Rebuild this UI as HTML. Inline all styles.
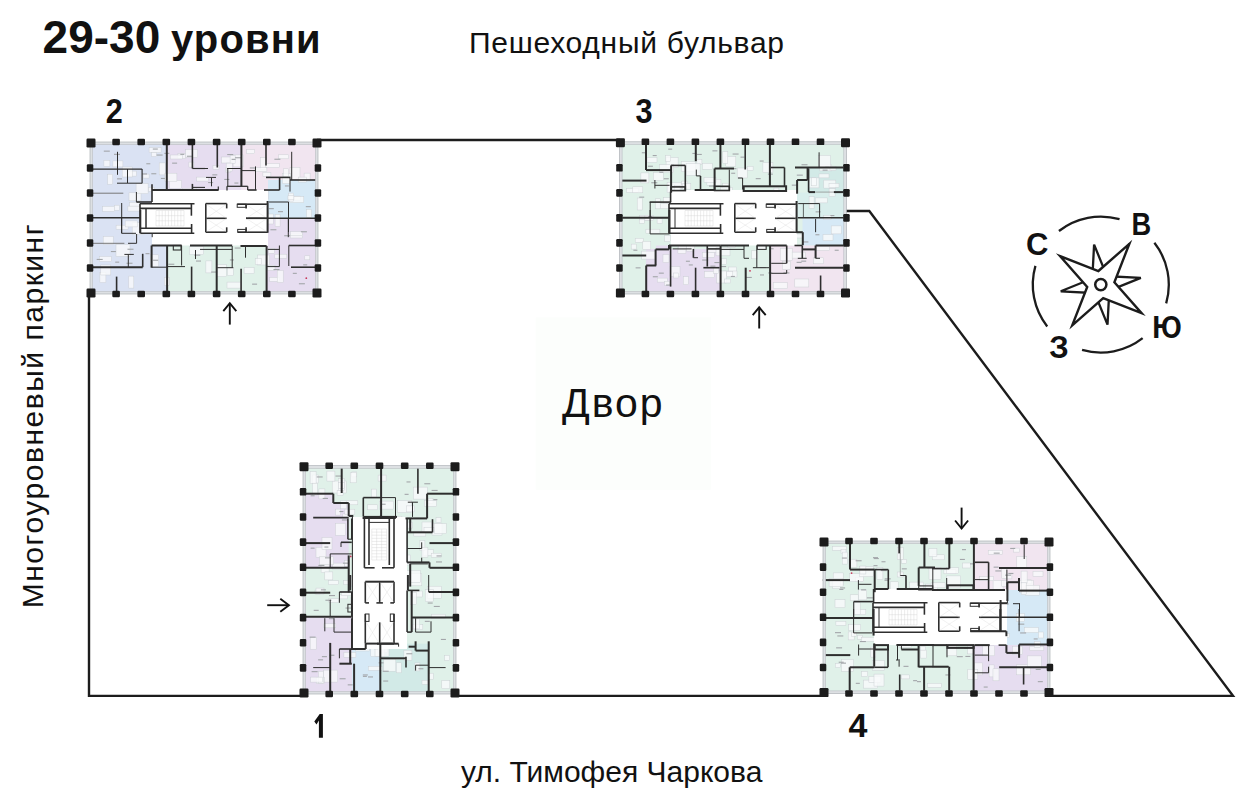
<!DOCTYPE html>
<html><head><meta charset="utf-8"><style>
html,body{margin:0;padding:0;background:#fff;}
svg{display:block;font-family:"Liberation Sans",sans-serif;}
text{fill:#111;}
</style></head><body>
<svg width="1250" height="811" viewBox="0 0 1250 811">
<rect x="0" y="0" width="1250" height="811" fill="#fff"/>
<rect x="535.7" y="317.3" width="175.1" height="172.5" fill="#fcfefc" />
<path d="M317,140 L620,140" stroke="#1c1c1c" stroke-width="2.4" fill="none"/>
<path d="M89,293 L89,695.9 L304,695.9" stroke="#1c1c1c" stroke-width="2.4" fill="none"/>
<path d="M455,695.9 L823,695.9" stroke="#1c1c1c" stroke-width="2.4" fill="none"/>
<path d="M1048,695.9 L1233,695.9 L869.3,211 L846,211" stroke="#1c1c1c" stroke-width="2.4" fill="none" stroke-linejoin="miter"/>
<rect x="91.0" y="143.0" width="226.0" height="150.0" fill="#f6f6f8" />
<rect x="91.0" y="143.0" width="76.0" height="150.0" fill="#dae2f3" />
<rect x="167.0" y="143.0" width="74.0" height="47.0" fill="#e6ddf0" />
<rect x="241.0" y="143.0" width="76.0" height="47.0" fill="#f1e5f0" />
<rect x="268.0" y="180.0" width="49.0" height="38.0" fill="#d6e9f6" />
<rect x="267.0" y="218.0" width="50.0" height="75.0" fill="#e6ddf0" />
<rect x="167.0" y="245.0" width="100.0" height="48.0" fill="#e0f1e9" />
<rect x="177.9" y="153.6" width="8" height="5" fill="#f9fafb" fill-opacity="0.8" stroke="#cbcfd3" stroke-width="0.45"/>
<rect x="170.3" y="155.0" width="12" height="4" fill="#f9fafb" fill-opacity="0.8" stroke="#cbcfd3" stroke-width="0.45"/>
<rect x="102.7" y="206.4" width="12" height="5" fill="#f9fafb" fill-opacity="0.8" stroke="#cbcfd3" stroke-width="0.45"/>
<rect x="114.3" y="205.2" width="5" height="5" fill="#f9fafb" fill-opacity="0.8" stroke="#cbcfd3" stroke-width="0.45"/>
<rect x="290.2" y="234.0" width="12" height="4" fill="#f9fafb" fill-opacity="0.8" stroke="#cbcfd3" stroke-width="0.45"/>
<rect x="213.9" y="201.7" width="12" height="4" fill="#f9fafb" fill-opacity="0.8" stroke="#cbcfd3" stroke-width="0.45"/>
<rect x="213.0" y="165.4" width="6" height="4" fill="#f9fafb" fill-opacity="0.8" stroke="#cbcfd3" stroke-width="0.45"/>
<rect x="207.5" y="225.2" width="10" height="5" fill="#f9fafb" fill-opacity="0.8" stroke="#cbcfd3" stroke-width="0.45"/>
<rect x="132.2" y="222.6" width="12" height="12" fill="#f9fafb" fill-opacity="0.8" stroke="#cbcfd3" stroke-width="0.45"/>
<rect x="171.0" y="222.0" width="14" height="5" fill="#f9fafb" fill-opacity="0.8" stroke="#cbcfd3" stroke-width="0.45"/>
<rect x="107.7" y="174.2" width="5" height="10" fill="#f9fafb" fill-opacity="0.8" stroke="#cbcfd3" stroke-width="0.45"/>
<rect x="182.2" y="188.5" width="14" height="10" fill="#f9fafb" fill-opacity="0.8" stroke="#cbcfd3" stroke-width="0.45"/>
<rect x="169.5" y="180.3" width="12" height="8" fill="#f9fafb" fill-opacity="0.8" stroke="#cbcfd3" stroke-width="0.45"/>
<rect x="260.3" y="157.6" width="6" height="12" fill="#f9fafb" fill-opacity="0.8" stroke="#cbcfd3" stroke-width="0.45"/>
<rect x="199.0" y="192.3" width="8" height="10" fill="#f9fafb" fill-opacity="0.8" stroke="#cbcfd3" stroke-width="0.45"/>
<rect x="221.7" y="157.0" width="10" height="6" fill="#f9fafb" fill-opacity="0.8" stroke="#cbcfd3" stroke-width="0.45"/>
<rect x="129.0" y="192.8" width="12" height="8" fill="#f9fafb" fill-opacity="0.8" stroke="#cbcfd3" stroke-width="0.45"/>
<rect x="103.2" y="236.5" width="10" height="8" fill="#f9fafb" fill-opacity="0.8" stroke="#cbcfd3" stroke-width="0.45"/>
<rect x="257.6" y="255.0" width="12" height="10" fill="#f9fafb" fill-opacity="0.8" stroke="#cbcfd3" stroke-width="0.45"/>
<rect x="168.5" y="211.6" width="8" height="12" fill="#f9fafb" fill-opacity="0.8" stroke="#cbcfd3" stroke-width="0.45"/>
<rect x="269.7" y="277.4" width="10" height="4" fill="#f9fafb" fill-opacity="0.8" stroke="#cbcfd3" stroke-width="0.45"/>
<rect x="233.1" y="154.9" width="10" height="12" fill="#f9fafb" fill-opacity="0.8" stroke="#cbcfd3" stroke-width="0.45"/>
<rect x="227.0" y="282.1" width="14" height="6" fill="#f9fafb" fill-opacity="0.8" stroke="#cbcfd3" stroke-width="0.45"/>
<rect x="244.1" y="267.6" width="10" height="6" fill="#f9fafb" fill-opacity="0.8" stroke="#cbcfd3" stroke-width="0.45"/>
<rect x="292.5" y="196.1" width="8" height="4" fill="#f9fafb" fill-opacity="0.8" stroke="#cbcfd3" stroke-width="0.45"/>
<rect x="196.7" y="177.1" width="12" height="4" fill="#f9fafb" fill-opacity="0.8" stroke="#cbcfd3" stroke-width="0.45"/>
<rect x="250.1" y="201.5" width="8" height="5" fill="#f9fafb" fill-opacity="0.8" stroke="#cbcfd3" stroke-width="0.45"/>
<rect x="129.6" y="202.4" width="10" height="4" fill="#f9fafb" fill-opacity="0.8" stroke="#cbcfd3" stroke-width="0.45"/>
<rect x="267.0" y="265.4" width="8" height="5" fill="#f9fafb" fill-opacity="0.8" stroke="#cbcfd3" stroke-width="0.45"/>
<rect x="182.2" y="193.6" width="8" height="12" fill="#f9fafb" fill-opacity="0.8" stroke="#cbcfd3" stroke-width="0.45"/>
<rect x="126.4" y="171.1" width="10" height="5" fill="#f9fafb" fill-opacity="0.8" stroke="#cbcfd3" stroke-width="0.45"/>
<rect x="144.5" y="210.0" width="6" height="12" fill="#f9fafb" fill-opacity="0.8" stroke="#cbcfd3" stroke-width="0.45"/>
<rect x="149.1" y="147.6" width="12" height="5" fill="#f9fafb" fill-opacity="0.8" stroke="#cbcfd3" stroke-width="0.45"/>
<rect x="171.8" y="221.8" width="10" height="10" fill="#f9fafb" fill-opacity="0.8" stroke="#cbcfd3" stroke-width="0.45"/>
<rect x="277.2" y="270.5" width="6" height="12" fill="#f9fafb" fill-opacity="0.8" stroke="#cbcfd3" stroke-width="0.45"/>
<rect x="245.9" y="206.4" width="14" height="12" fill="#f9fafb" fill-opacity="0.8" stroke="#cbcfd3" stroke-width="0.45"/>
<rect x="175.0" y="199.7" width="14" height="10" fill="#f9fafb" fill-opacity="0.8" stroke="#cbcfd3" stroke-width="0.45"/>
<rect x="230.1" y="155.3" width="5" height="8" fill="#f9fafb" fill-opacity="0.8" stroke="#cbcfd3" stroke-width="0.45"/>
<rect x="188.9" y="162.1" width="5" height="5" fill="#f9fafb" fill-opacity="0.8" stroke="#cbcfd3" stroke-width="0.45"/>
<rect x="116.1" y="225.2" width="12" height="4" fill="#f9fafb" fill-opacity="0.8" stroke="#cbcfd3" stroke-width="0.45"/>
<rect x="290.5" y="231.7" width="12" height="4" fill="#f9fafb" fill-opacity="0.8" stroke="#cbcfd3" stroke-width="0.45"/>
<rect x="225.8" y="167.4" width="5" height="5" fill="#f9fafb" fill-opacity="0.8" stroke="#cbcfd3" stroke-width="0.45"/>
<rect x="221.5" y="211.5" width="8" height="6" fill="#f9fafb" fill-opacity="0.8" stroke="#cbcfd3" stroke-width="0.45"/>
<rect x="306.5" y="209.4" width="5" height="8" fill="#f9fafb" fill-opacity="0.8" stroke="#cbcfd3" stroke-width="0.45"/>
<rect x="112.9" y="160.9" width="10" height="6" fill="#f9fafb" fill-opacity="0.8" stroke="#cbcfd3" stroke-width="0.45"/>
<rect x="150.6" y="254.8" width="8" height="12" fill="#f9fafb" fill-opacity="0.8" stroke="#cbcfd3" stroke-width="0.45"/>
<rect x="99.9" y="272.5" width="6" height="10" fill="#f9fafb" fill-opacity="0.8" stroke="#cbcfd3" stroke-width="0.45"/>
<rect x="125.2" y="220.9" width="12" height="6" fill="#f9fafb" fill-opacity="0.8" stroke="#cbcfd3" stroke-width="0.45"/>
<rect x="158.5" y="231.9" width="5" height="10" fill="#f9fafb" fill-opacity="0.8" stroke="#cbcfd3" stroke-width="0.45"/>
<rect x="275.1" y="214.4" width="5" height="12" fill="#f9fafb" fill-opacity="0.8" stroke="#cbcfd3" stroke-width="0.45"/>
<rect x="258.7" y="219.4" width="6" height="6" fill="#f9fafb" fill-opacity="0.8" stroke="#cbcfd3" stroke-width="0.45"/>
<rect x="226.1" y="230.4" width="12" height="6" fill="#f9fafb" fill-opacity="0.8" stroke="#cbcfd3" stroke-width="0.45"/>
<rect x="268.5" y="248.4" width="6" height="5" fill="#f9fafb" fill-opacity="0.8" stroke="#cbcfd3" stroke-width="0.45"/>
<rect x="204.7" y="195.7" width="6" height="5" fill="#f9fafb" fill-opacity="0.8" stroke="#cbcfd3" stroke-width="0.45"/>
<rect x="263.3" y="212.2" width="5" height="4" fill="#f9fafb" fill-opacity="0.8" stroke="#cbcfd3" stroke-width="0.45"/>
<rect x="223.3" y="191.8" width="6" height="12" fill="#f9fafb" fill-opacity="0.8" stroke="#cbcfd3" stroke-width="0.45"/>
<rect x="289.8" y="196.6" width="14" height="6" fill="#f9fafb" fill-opacity="0.8" stroke="#cbcfd3" stroke-width="0.45"/>
<rect x="143.1" y="174.1" width="6" height="4" fill="#f9fafb" fill-opacity="0.8" stroke="#cbcfd3" stroke-width="0.45"/>
<rect x="227.3" y="267.6" width="6" height="8" fill="#f9fafb" fill-opacity="0.8" stroke="#cbcfd3" stroke-width="0.45"/>
<rect x="288.7" y="193.1" width="5" height="8" fill="#f9fafb" fill-opacity="0.8" stroke="#cbcfd3" stroke-width="0.45"/>
<rect x="265.3" y="163.5" width="14" height="4" fill="#f9fafb" fill-opacity="0.8" stroke="#cbcfd3" stroke-width="0.45"/>
<rect x="251.0" y="209.1" width="10" height="12" fill="#f9fafb" fill-opacity="0.8" stroke="#cbcfd3" stroke-width="0.45"/>
<rect x="262.3" y="191.6" width="6" height="8" fill="#f9fafb" fill-opacity="0.8" stroke="#cbcfd3" stroke-width="0.45"/>
<rect x="189.5" y="246.6" width="14" height="8" fill="#f9fafb" fill-opacity="0.8" stroke="#cbcfd3" stroke-width="0.45"/>
<rect x="128.8" y="276.1" width="5" height="12" fill="#f9fafb" fill-opacity="0.8" stroke="#cbcfd3" stroke-width="0.45"/>
<rect x="220.8" y="210.8" width="5" height="5" fill="#f9fafb" fill-opacity="0.8" stroke="#cbcfd3" stroke-width="0.45"/>
<rect x="219.8" y="228.6" width="14" height="5" fill="#f9fafb" fill-opacity="0.8" stroke="#cbcfd3" stroke-width="0.45"/>
<rect x="290.0" y="167.3" width="10" height="12" fill="#f9fafb" fill-opacity="0.8" stroke="#cbcfd3" stroke-width="0.45"/>
<rect x="99.4" y="256.5" width="12" height="5" fill="#f9fafb" fill-opacity="0.8" stroke="#cbcfd3" stroke-width="0.45"/>
<rect x="116.0" y="244.4" width="14" height="12" fill="#f9fafb" fill-opacity="0.8" stroke="#cbcfd3" stroke-width="0.45"/>
<rect x="304.1" y="173.1" width="6" height="8" fill="#f9fafb" fill-opacity="0.8" stroke="#cbcfd3" stroke-width="0.45"/>
<rect x="148.4" y="187.4" width="6" height="4" fill="#f9fafb" fill-opacity="0.8" stroke="#cbcfd3" stroke-width="0.45"/>
<rect x="164.1" y="218.9" width="6" height="10" fill="#f9fafb" fill-opacity="0.8" stroke="#cbcfd3" stroke-width="0.45"/>
<rect x="287.9" y="195.8" width="6" height="4" fill="#f9fafb" fill-opacity="0.8" stroke="#cbcfd3" stroke-width="0.45"/>
<rect x="216.3" y="264.6" width="10" height="12" fill="#f9fafb" fill-opacity="0.8" stroke="#cbcfd3" stroke-width="0.45"/>
<rect x="122.2" y="167.0" width="10" height="10" fill="#f9fafb" fill-opacity="0.8" stroke="#cbcfd3" stroke-width="0.45"/>
<rect x="274.8" y="254.2" width="12" height="4" fill="#f9fafb" fill-opacity="0.8" stroke="#cbcfd3" stroke-width="0.45"/>
<rect x="254.9" y="167.7" width="12" height="4" fill="#f9fafb" fill-opacity="0.8" stroke="#cbcfd3" stroke-width="0.45"/>
<rect x="226.2" y="163.1" width="6" height="8" fill="#f9fafb" fill-opacity="0.8" stroke="#cbcfd3" stroke-width="0.45"/>
<rect x="240.3" y="219.2" width="5" height="6" fill="#f9fafb" fill-opacity="0.8" stroke="#cbcfd3" stroke-width="0.45"/>
<rect x="278.7" y="154.8" width="10" height="4" fill="#f9fafb" fill-opacity="0.8" stroke="#cbcfd3" stroke-width="0.45"/>
<rect x="103.9" y="160.3" width="6" height="6" fill="#f9fafb" fill-opacity="0.8" stroke="#cbcfd3" stroke-width="0.45"/>
<rect x="100.8" y="265.0" width="10" height="10" fill="#f9fafb" fill-opacity="0.8" stroke="#cbcfd3" stroke-width="0.45"/>
<rect x="164.4" y="277.4" width="5" height="8" fill="#f9fafb" fill-opacity="0.8" stroke="#cbcfd3" stroke-width="0.45"/>
<rect x="136.1" y="183.6" width="12" height="10" fill="#f9fafb" fill-opacity="0.8" stroke="#cbcfd3" stroke-width="0.45"/>
<rect x="261.3" y="214.0" width="12" height="10" fill="#f9fafb" fill-opacity="0.8" stroke="#cbcfd3" stroke-width="0.45"/>
<rect x="205.9" y="260.9" width="6" height="12" fill="#f9fafb" fill-opacity="0.8" stroke="#cbcfd3" stroke-width="0.45"/>
<rect x="282.5" y="173.7" width="8" height="10" fill="#f9fafb" fill-opacity="0.8" stroke="#cbcfd3" stroke-width="0.45"/>
<rect x="181.7" y="200.8" width="10" height="5" fill="#f9fafb" fill-opacity="0.8" stroke="#cbcfd3" stroke-width="0.45"/>
<rect x="235.9" y="206.1" width="8" height="4" fill="#f9fafb" fill-opacity="0.8" stroke="#cbcfd3" stroke-width="0.45"/>
<rect x="159.2" y="162.9" width="6" height="12" fill="#f9fafb" fill-opacity="0.8" stroke="#cbcfd3" stroke-width="0.45"/>
<rect x="231.4" y="194.6" width="6" height="12" fill="#f9fafb" fill-opacity="0.8" stroke="#cbcfd3" stroke-width="0.45"/>
<rect x="298.2" y="177.1" width="8" height="5" fill="#f9fafb" fill-opacity="0.8" stroke="#cbcfd3" stroke-width="0.45"/>
<rect x="283.5" y="168.8" width="5" height="8" fill="#f9fafb" fill-opacity="0.8" stroke="#cbcfd3" stroke-width="0.45"/>
<rect x="127.9" y="206.1" width="14" height="5" fill="#f9fafb" fill-opacity="0.8" stroke="#cbcfd3" stroke-width="0.45"/>
<rect x="164.9" y="173.2" width="12" height="8" fill="#f9fafb" fill-opacity="0.8" stroke="#cbcfd3" stroke-width="0.45"/>
<rect x="246.7" y="149.7" width="8" height="4" fill="#f9fafb" fill-opacity="0.8" stroke="#cbcfd3" stroke-width="0.45"/>
<rect x="185.7" y="149.4" width="12" height="8" fill="#f9fafb" fill-opacity="0.8" stroke="#cbcfd3" stroke-width="0.45"/>
<rect x="226.0" y="214.6" width="8" height="10" fill="#f9fafb" fill-opacity="0.8" stroke="#cbcfd3" stroke-width="0.45"/>
<rect x="304.8" y="255.8" width="5" height="4" fill="#f9fafb" fill-opacity="0.8" stroke="#cbcfd3" stroke-width="0.45"/>
<rect x="151.6" y="152.5" width="5" height="4" fill="#f9fafb" fill-opacity="0.8" stroke="#cbcfd3" stroke-width="0.45"/>
<rect x="255.2" y="258.5" width="6" height="6" fill="#f9fafb" fill-opacity="0.8" stroke="#cbcfd3" stroke-width="0.45"/>
<rect x="177.8" y="220.0" width="14" height="6" fill="#f9fafb" fill-opacity="0.8" stroke="#cbcfd3" stroke-width="0.45"/>
<rect x="196.9" y="190.2" width="12" height="10" fill="#f9fafb" fill-opacity="0.8" stroke="#cbcfd3" stroke-width="0.45"/>
<rect x="262.9" y="172.3" width="8" height="4" fill="#f9fafb" fill-opacity="0.8" stroke="#cbcfd3" stroke-width="0.45"/>
<rect x="284.9" y="185.4" width="4" height="1.1" fill="#a3a6aa"/>
<rect x="229.9" y="259.4" width="4" height="1.1" fill="#a3a6aa"/>
<rect x="224.3" y="178.9" width="5" height="1.1" fill="#a3a6aa"/>
<rect x="278.0" y="211.1" width="5" height="1.1" fill="#a3a6aa"/>
<rect x="305.8" y="206.1" width="5" height="1.1" fill="#a3a6aa"/>
<rect x="227.2" y="154.0" width="6" height="1.1" fill="#a3a6aa"/>
<rect x="146.3" y="163.2" width="4" height="1.1" fill="#a3a6aa"/>
<rect x="151.3" y="173.2" width="5" height="1.1" fill="#a3a6aa"/>
<rect x="228.6" y="221.8" width="4" height="1.1" fill="#a3a6aa"/>
<rect x="157.2" y="217.5" width="4" height="1.1" fill="#a3a6aa"/>
<rect x="153.1" y="259.7" width="5" height="1.1" fill="#a3a6aa"/>
<rect x="103.8" y="150.6" width="6" height="1.1" fill="#a3a6aa"/>
<rect x="212.3" y="174.3" width="5" height="1.1" fill="#a3a6aa"/>
<rect x="147.8" y="210.1" width="6" height="1.1" fill="#a3a6aa"/>
<rect x="268.8" y="208.1" width="5" height="1.1" fill="#a3a6aa"/>
<rect x="211.2" y="271.5" width="6" height="1.1" fill="#a3a6aa"/>
<rect x="160.9" y="177.9" width="4" height="1.1" fill="#a3a6aa"/>
<rect x="168.3" y="263.7" width="6" height="1.1" fill="#a3a6aa"/>
<rect x="249.8" y="167.4" width="5" height="1.1" fill="#a3a6aa"/>
<rect x="303.2" y="264.3" width="4" height="1.1" fill="#a3a6aa"/>
<rect x="110.9" y="251.0" width="5" height="1.1" fill="#a3a6aa"/>
<rect x="186.9" y="155.7" width="6" height="1.1" fill="#a3a6aa"/>
<rect x="273.5" y="269.0" width="6" height="1.1" fill="#a3a6aa"/>
<rect x="300.9" y="231.2" width="6" height="1.1" fill="#a3a6aa"/>
<rect x="157.8" y="211.9" width="4" height="1.1" fill="#a3a6aa"/>
<rect x="152.8" y="148.5" width="5" height="1.1" fill="#a3a6aa"/>
<rect x="298.9" y="283.2" width="6" height="1.1" fill="#a3a6aa"/>
<rect x="164.3" y="152.8" width="5" height="1.1" fill="#a3a6aa"/>
<rect x="142.0" y="173.4" width="5" height="1.1" fill="#a3a6aa"/>
<rect x="176.5" y="214.0" width="6" height="1.1" fill="#a3a6aa"/>
<rect x="234.4" y="182.5" width="4" height="1.1" fill="#a3a6aa"/>
<rect x="115.2" y="261.6" width="4" height="1.1" fill="#a3a6aa"/>
<rect x="180.3" y="153.8" width="4" height="1.1" fill="#a3a6aa"/>
<rect x="159.2" y="235.5" width="4" height="1.1" fill="#a3a6aa"/>
<rect x="219.6" y="221.6" width="4" height="1.1" fill="#a3a6aa"/>
<rect x="234.7" y="247.5" width="6" height="1.1" fill="#a3a6aa"/>
<rect x="178.2" y="193.3" width="5" height="1.1" fill="#a3a6aa"/>
<rect x="127.5" y="248.7" width="6" height="1.1" fill="#a3a6aa"/>
<rect x="126.5" y="262.7" width="6" height="1.1" fill="#a3a6aa"/>
<rect x="284.2" y="235.2" width="6" height="1.1" fill="#a3a6aa"/>
<rect x="243.9" y="218.3" width="6" height="1.1" fill="#a3a6aa"/>
<rect x="254.9" y="227.0" width="4" height="1.1" fill="#a3a6aa"/>
<rect x="270.4" y="229.2" width="6" height="1.1" fill="#a3a6aa"/>
<rect x="240.1" y="244.4" width="4" height="1.1" fill="#a3a6aa"/>
<rect x="114.0" y="153.8" width="6" height="1.1" fill="#a3a6aa"/>
<rect x="172.1" y="162.6" width="5" height="1.1" fill="#a3a6aa"/>
<rect x="213.8" y="235.3" width="6" height="1.1" fill="#a3a6aa"/>
<rect x="208.1" y="182.0" width="5" height="1.1" fill="#a3a6aa"/>
<rect x="96.7" y="258.9" width="6" height="1.1" fill="#a3a6aa"/>
<rect x="292.8" y="272.8" width="4" height="1.1" fill="#a3a6aa"/>
<rect x="235.1" y="157.2" width="6" height="1.1" fill="#a3a6aa"/>
<rect x="196.0" y="260.5" width="5" height="1.1" fill="#a3a6aa"/>
<rect x="145.5" y="253.1" width="4" height="1.1" fill="#a3a6aa"/>
<rect x="252.1" y="283.6" width="5" height="1.1" fill="#a3a6aa"/>
<rect x="274.4" y="158.7" width="6" height="1.1" fill="#a3a6aa"/>
<rect x="156.6" y="154.5" width="6" height="1.1" fill="#a3a6aa"/>
<rect x="231.6" y="158.8" width="4" height="1.1" fill="#a3a6aa"/>
<rect x="166.0" y="238.6" width="6" height="1.1" fill="#a3a6aa"/>
<rect x="160.2" y="226.9" width="4" height="1.1" fill="#a3a6aa"/>
<rect x="197.8" y="215.5" width="6" height="1.1" fill="#a3a6aa"/>
<rect x="117.0" y="178.3" width="5" height="1.1" fill="#a3a6aa"/>
<rect x="157.4" y="219.8" width="5" height="1.1" fill="#a3a6aa"/>
<rect x="194.3" y="254.6" width="6" height="1.1" fill="#a3a6aa"/>
<circle cx="306.3" cy="278.2" r="0.9" fill="#c8385a"/>
<rect x="152.0" y="190.0" width="116.0" height="55.5" fill="#ffffff" />
<rect x="140.0" y="203.7" width="128.0" height="29.6" fill="#ffffff" />
<line x1="156.0" y1="210.5" x2="156.0" y2="226.0" stroke="#cfcfcf" stroke-width="0.41"/>
<line x1="159.1" y1="210.5" x2="159.1" y2="226.0" stroke="#cfcfcf" stroke-width="0.41"/>
<line x1="162.2" y1="210.5" x2="162.2" y2="226.0" stroke="#cfcfcf" stroke-width="0.41"/>
<line x1="165.3" y1="210.5" x2="165.3" y2="226.0" stroke="#cfcfcf" stroke-width="0.41"/>
<line x1="168.4" y1="210.5" x2="168.4" y2="226.0" stroke="#cfcfcf" stroke-width="0.41"/>
<line x1="171.6" y1="210.5" x2="171.6" y2="226.0" stroke="#cfcfcf" stroke-width="0.41"/>
<line x1="174.7" y1="210.5" x2="174.7" y2="226.0" stroke="#cfcfcf" stroke-width="0.41"/>
<line x1="177.8" y1="210.5" x2="177.8" y2="226.0" stroke="#cfcfcf" stroke-width="0.41"/>
<line x1="180.9" y1="210.5" x2="180.9" y2="226.0" stroke="#cfcfcf" stroke-width="0.41"/>
<line x1="184.0" y1="210.5" x2="184.0" y2="226.0" stroke="#cfcfcf" stroke-width="0.41"/>
<line x1="156.0" y1="210.5" x2="184.0" y2="210.5" stroke="#cfcfcf" stroke-width="0.41"/>
<line x1="156.0" y1="215.7" x2="184.0" y2="215.7" stroke="#cfcfcf" stroke-width="0.41"/>
<line x1="156.0" y1="220.8" x2="184.0" y2="220.8" stroke="#cfcfcf" stroke-width="0.41"/>
<line x1="156.0" y1="226.0" x2="184.0" y2="226.0" stroke="#cfcfcf" stroke-width="0.41"/>
<line x1="140.0" y1="203.7" x2="194.5" y2="203.7" stroke="#2e2e2e" stroke-width="1.60"/>
<line x1="140.0" y1="208.4" x2="190.9" y2="208.4" stroke="#2e2e2e" stroke-width="1.60"/>
<line x1="140.5" y1="228.3" x2="191.6" y2="228.3" stroke="#2e2e2e" stroke-width="1.60"/>
<line x1="140.5" y1="233.3" x2="194.3" y2="233.3" stroke="#2e2e2e" stroke-width="1.60"/>
<line x1="140.0" y1="203.7" x2="140.0" y2="233.3" stroke="#2e2e2e" stroke-width="1.60"/>
<line x1="146.0" y1="208.4" x2="146.0" y2="228.3" stroke="#2e2e2e" stroke-width="1.00"/>
<line x1="191.4" y1="203.7" x2="191.4" y2="215.7" stroke="#2e2e2e" stroke-width="1.60"/>
<line x1="191.6" y1="224.0" x2="191.6" y2="233.3" stroke="#2e2e2e" stroke-width="1.60"/>
<line x1="205.8" y1="203.6" x2="226.7" y2="203.6" stroke="#2e2e2e" stroke-width="1.60"/>
<line x1="205.8" y1="203.6" x2="205.8" y2="232.2" stroke="#2e2e2e" stroke-width="1.60"/>
<line x1="226.7" y1="203.6" x2="226.7" y2="208.4" stroke="#2e2e2e" stroke-width="1.60"/>
<line x1="226.7" y1="227.3" x2="226.7" y2="232.2" stroke="#2e2e2e" stroke-width="1.60"/>
<line x1="205.8" y1="218.3" x2="226.6" y2="218.3" stroke="#2e2e2e" stroke-width="1.60"/>
<line x1="205.8" y1="232.2" x2="226.6" y2="232.2" stroke="#2e2e2e" stroke-width="1.60"/>
<line x1="237.2" y1="204.2" x2="267.0" y2="204.2" stroke="#2e2e2e" stroke-width="1.60"/>
<rect x="237.2" y="204.2" width="8.9" height="3.1" fill="none" stroke="#2e2e2e" stroke-width="1.00"/>
<line x1="246.0" y1="218.3" x2="267.0" y2="218.3" stroke="#2e2e2e" stroke-width="1.60"/>
<line x1="246.1" y1="204.2" x2="246.1" y2="208.4" stroke="#2e2e2e" stroke-width="1.60"/>
<line x1="246.1" y1="227.3" x2="246.1" y2="232.2" stroke="#2e2e2e" stroke-width="1.60"/>
<line x1="237.7" y1="232.2" x2="267.7" y2="232.2" stroke="#2e2e2e" stroke-width="1.60"/>
<rect x="237.7" y="229.4" width="8.3" height="2.8" fill="none" stroke="#2e2e2e" stroke-width="1.00"/>
<line x1="267.6" y1="201.0" x2="267.6" y2="232.8" stroke="#2e2e2e" stroke-width="2.00"/>
<line x1="206.5" y1="204.5" x2="226.0" y2="218.0" stroke="#d8d8d8" stroke-width="0.36"/>
<line x1="206.5" y1="218.0" x2="226.0" y2="204.5" stroke="#d8d8d8" stroke-width="0.36"/>
<line x1="206.5" y1="218.8" x2="226.0" y2="231.5" stroke="#d8d8d8" stroke-width="0.36"/>
<line x1="206.5" y1="231.5" x2="226.0" y2="218.8" stroke="#d8d8d8" stroke-width="0.36"/>
<line x1="246.8" y1="205.0" x2="266.5" y2="218.0" stroke="#d8d8d8" stroke-width="0.36"/>
<line x1="246.8" y1="218.0" x2="266.5" y2="205.0" stroke="#d8d8d8" stroke-width="0.36"/>
<line x1="246.8" y1="218.8" x2="266.5" y2="231.5" stroke="#d8d8d8" stroke-width="0.36"/>
<line x1="246.8" y1="231.5" x2="266.5" y2="218.8" stroke="#d8d8d8" stroke-width="0.36"/>
<line x1="90.8" y1="169.1" x2="142.1" y2="169.1" stroke="#2e2e2e" stroke-width="1.44"/>
<line x1="142.1" y1="169.0" x2="142.1" y2="183.2" stroke="#2e2e2e" stroke-width="1.17"/>
<line x1="117.0" y1="183.2" x2="142.1" y2="183.2" stroke="#2e2e2e" stroke-width="0.99"/>
<line x1="127.5" y1="169.0" x2="127.5" y2="183.0" stroke="#2e2e2e" stroke-width="1.00"/>
<line x1="117.5" y1="151.8" x2="117.5" y2="174.8" stroke="#2e2e2e" stroke-width="1.00"/>
<line x1="166.8" y1="141.8" x2="166.8" y2="189.5" stroke="#2e2e2e" stroke-width="2.00"/>
<line x1="152.0" y1="190.0" x2="218.3" y2="190.0" stroke="#2e2e2e" stroke-width="2.00"/>
<line x1="152.0" y1="184.3" x2="152.0" y2="202.0" stroke="#2e2e2e" stroke-width="1.60"/>
<line x1="90.8" y1="193.2" x2="123.3" y2="193.2" stroke="#777" stroke-width="1.00"/>
<line x1="136.4" y1="192.0" x2="136.4" y2="202.0" stroke="#2e2e2e" stroke-width="1.00"/>
<line x1="136.4" y1="202.0" x2="152.0" y2="202.0" stroke="#2e2e2e" stroke-width="1.60"/>
<line x1="90.8" y1="217.8" x2="140.0" y2="217.8" stroke="#2e2e2e" stroke-width="1.44"/>
<line x1="121.7" y1="203.0" x2="121.7" y2="233.0" stroke="#2e2e2e" stroke-width="1.00"/>
<line x1="192.4" y1="141.8" x2="192.4" y2="168.5" stroke="#2e2e2e" stroke-width="1.60"/>
<line x1="192.4" y1="168.5" x2="205.0" y2="168.5" stroke="#2e2e2e" stroke-width="1.17"/>
<line x1="192.4" y1="183.9" x2="192.4" y2="190.0" stroke="#2e2e2e" stroke-width="1.60"/>
<line x1="192.4" y1="187.4" x2="205.0" y2="187.4" stroke="#2e2e2e" stroke-width="1.08"/>
<line x1="217.3" y1="141.8" x2="217.3" y2="167.5" stroke="#2e2e2e" stroke-width="1.60"/>
<line x1="241.4" y1="141.8" x2="241.4" y2="186.3" stroke="#2e2e2e" stroke-width="2.00"/>
<line x1="266.0" y1="141.8" x2="266.0" y2="165.4" stroke="#2e2e2e" stroke-width="1.60"/>
<line x1="291.7" y1="151.8" x2="291.7" y2="180.0" stroke="#2e2e2e" stroke-width="1.00"/>
<line x1="290.0" y1="180.0" x2="316.8" y2="180.0" stroke="#2e2e2e" stroke-width="1.60"/>
<line x1="266.0" y1="177.4" x2="290.6" y2="177.4" stroke="#2e2e2e" stroke-width="1.60"/>
<line x1="279.6" y1="177.4" x2="279.6" y2="190.0" stroke="#2e2e2e" stroke-width="1.60"/>
<line x1="264.0" y1="190.0" x2="279.6" y2="190.0" stroke="#2e2e2e" stroke-width="1.60"/>
<line x1="227.0" y1="186.3" x2="247.7" y2="186.3" stroke="#2e2e2e" stroke-width="1.26"/>
<line x1="227.0" y1="186.3" x2="227.0" y2="190.5" stroke="#2e2e2e" stroke-width="1.26"/>
<line x1="247.7" y1="186.3" x2="247.7" y2="190.0" stroke="#2e2e2e" stroke-width="1.26"/>
<line x1="247.7" y1="190.0" x2="256.6" y2="190.0" stroke="#2e2e2e" stroke-width="1.60"/>
<line x1="218.3" y1="186.5" x2="218.3" y2="190.5" stroke="#2e2e2e" stroke-width="1.17"/>
<line x1="255.5" y1="166.4" x2="255.5" y2="190.0" stroke="#2e2e2e" stroke-width="1.00"/>
<line x1="241.4" y1="170.6" x2="255.0" y2="170.6" stroke="#2e2e2e" stroke-width="1.00"/>
<line x1="227.0" y1="168.5" x2="241.4" y2="168.5" stroke="#2e2e2e" stroke-width="1.00"/>
<line x1="200.0" y1="168.5" x2="208.0" y2="168.5" stroke="#2e2e2e" stroke-width="1.00"/>
<line x1="211.5" y1="178.0" x2="211.5" y2="186.3" stroke="#2e2e2e" stroke-width="1.00"/>
<line x1="206.0" y1="177.4" x2="216.0" y2="177.4" stroke="#2e2e2e" stroke-width="1.00"/>
<line x1="227.8" y1="168.5" x2="227.8" y2="186.3" stroke="#2e2e2e" stroke-width="1.00"/>
<line x1="288.5" y1="202.0" x2="288.5" y2="232.0" stroke="#2e2e2e" stroke-width="1.00"/>
<line x1="269.0" y1="202.0" x2="288.5" y2="202.0" stroke="#2e2e2e" stroke-width="1.00"/>
<line x1="290.0" y1="178.0" x2="290.0" y2="191.6" stroke="#2e2e2e" stroke-width="1.00"/>
<line x1="246.0" y1="218.3" x2="317.0" y2="218.3" stroke="#2e2e2e" stroke-width="1.60"/>
<line x1="140.5" y1="210.0" x2="140.5" y2="233.3" stroke="#2e2e2e" stroke-width="1.60"/>
<line x1="146.0" y1="208.4" x2="146.0" y2="228.3" stroke="#2e2e2e" stroke-width="1.00"/>
<line x1="121.6" y1="218.0" x2="121.6" y2="233.3" stroke="#2e2e2e" stroke-width="1.00"/>
<line x1="121.6" y1="233.3" x2="136.0" y2="233.3" stroke="#2e2e2e" stroke-width="1.00"/>
<line x1="136.6" y1="234.0" x2="136.6" y2="243.3" stroke="#2e2e2e" stroke-width="1.00"/>
<line x1="152.2" y1="234.0" x2="152.2" y2="237.2" stroke="#2e2e2e" stroke-width="1.00"/>
<line x1="91.0" y1="243.3" x2="124.4" y2="243.3" stroke="#777" stroke-width="1.00"/>
<line x1="128.0" y1="243.3" x2="136.6" y2="243.3" stroke="#2e2e2e" stroke-width="1.00"/>
<line x1="151.6" y1="245.5" x2="151.6" y2="267.7" stroke="#2e2e2e" stroke-width="2.00"/>
<line x1="151.6" y1="245.5" x2="181.6" y2="245.5" stroke="#2e2e2e" stroke-width="2.00"/>
<line x1="190.0" y1="245.5" x2="232.2" y2="245.5" stroke="#2e2e2e" stroke-width="2.00"/>
<rect x="173.3" y="245.5" width="7.7" height="4.5" fill="none" stroke="#2e2e2e" stroke-width="1.08"/>
<line x1="167.1" y1="245.5" x2="167.1" y2="292.7" stroke="#2e2e2e" stroke-width="2.00"/>
<line x1="91.0" y1="267.2" x2="142.7" y2="267.2" stroke="#2e2e2e" stroke-width="2.00"/>
<line x1="142.7" y1="253.8" x2="142.7" y2="267.2" stroke="#2e2e2e" stroke-width="1.60"/>
<line x1="124.4" y1="254.4" x2="133.8" y2="254.4" stroke="#2e2e2e" stroke-width="1.00"/>
<line x1="128.3" y1="254.4" x2="128.3" y2="267.2" stroke="#2e2e2e" stroke-width="1.00"/>
<line x1="151.6" y1="267.2" x2="167.1" y2="267.2" stroke="#2e2e2e" stroke-width="1.00"/>
<line x1="167.1" y1="266.6" x2="185.0" y2="266.6" stroke="#2e2e2e" stroke-width="1.00"/>
<line x1="181.6" y1="245.5" x2="181.6" y2="265.5" stroke="#2e2e2e" stroke-width="1.00"/>
<line x1="191.6" y1="266.6" x2="191.6" y2="292.7" stroke="#2e2e2e" stroke-width="1.60"/>
<line x1="116.6" y1="276.6" x2="116.6" y2="292.0" stroke="#2e2e2e" stroke-width="1.60"/>
<line x1="195.5" y1="250.0" x2="195.5" y2="259.0" stroke="#2e2e2e" stroke-width="1.00"/>
<line x1="288.3" y1="218.3" x2="288.3" y2="237.2" stroke="#2e2e2e" stroke-width="1.00"/>
<line x1="200.0" y1="249.4" x2="232.2" y2="249.4" stroke="#2e2e2e" stroke-width="1.00"/>
<line x1="216.7" y1="246.0" x2="216.7" y2="292.7" stroke="#2e2e2e" stroke-width="2.00"/>
<line x1="240.5" y1="246.0" x2="266.6" y2="246.0" stroke="#2e2e2e" stroke-width="2.00"/>
<line x1="266.6" y1="246.0" x2="266.6" y2="292.7" stroke="#2e2e2e" stroke-width="2.00"/>
<line x1="245.5" y1="246.0" x2="245.5" y2="257.7" stroke="#2e2e2e" stroke-width="1.00"/>
<line x1="241.1" y1="268.8" x2="241.1" y2="292.7" stroke="#2e2e2e" stroke-width="1.60"/>
<line x1="217.2" y1="267.7" x2="233.3" y2="267.7" stroke="#2e2e2e" stroke-width="1.00"/>
<line x1="232.2" y1="246.0" x2="232.2" y2="267.7" stroke="#2e2e2e" stroke-width="1.00"/>
<line x1="267.7" y1="249.4" x2="279.4" y2="249.4" stroke="#2e2e2e" stroke-width="1.00"/>
<line x1="279.4" y1="245.5" x2="279.4" y2="266.6" stroke="#2e2e2e" stroke-width="1.00"/>
<line x1="266.6" y1="266.6" x2="279.4" y2="266.6" stroke="#2e2e2e" stroke-width="1.00"/>
<line x1="288.8" y1="245.5" x2="317.0" y2="245.5" stroke="#2e2e2e" stroke-width="1.60"/>
<line x1="288.8" y1="245.5" x2="288.8" y2="266.0" stroke="#2e2e2e" stroke-width="1.00"/>
<line x1="291.0" y1="267.2" x2="317.0" y2="267.2" stroke="#2e2e2e" stroke-width="1.60"/>
<rect x="91.3" y="143.3" width="225.4" height="149.4" fill="none" stroke="#dde0e3" stroke-width="2.8"/>
<rect x="90.0" y="142.0" width="228" height="152" fill="none" stroke="#a6abb0" stroke-width="0.6"/>
<rect x="92.7" y="144.7" width="222.6" height="146.6" fill="none" stroke="#b3b7bc" stroke-width="0.5"/>
<rect x="86.5" y="138.5" width="9.0" height="9.0" fill="#1c1c1c" rx="1.2"/>
<rect x="112.3" y="138.8" width="7.6" height="6.5" fill="#1c1c1c" rx="1.2"/>
<rect x="137.4" y="138.8" width="7.6" height="6.5" fill="#1c1c1c" rx="1.2"/>
<rect x="162.5" y="138.8" width="7.6" height="6.5" fill="#1c1c1c" rx="1.2"/>
<rect x="187.6" y="138.8" width="7.6" height="6.5" fill="#1c1c1c" rx="1.2"/>
<rect x="212.8" y="138.8" width="7.6" height="6.5" fill="#1c1c1c" rx="1.2"/>
<rect x="237.9" y="138.8" width="7.6" height="6.5" fill="#1c1c1c" rx="1.2"/>
<rect x="263.0" y="138.8" width="7.6" height="6.5" fill="#1c1c1c" rx="1.2"/>
<rect x="288.1" y="138.8" width="7.6" height="6.5" fill="#1c1c1c" rx="1.2"/>
<rect x="312.5" y="138.5" width="9.0" height="9.0" fill="#1c1c1c" rx="1.2"/>
<rect x="86.8" y="164.2" width="6.5" height="7.6" fill="#1c1c1c" rx="1.2"/>
<rect x="314.7" y="164.2" width="6.5" height="7.6" fill="#1c1c1c" rx="1.2"/>
<rect x="86.8" y="189.2" width="6.5" height="7.6" fill="#1c1c1c" rx="1.2"/>
<rect x="314.7" y="189.2" width="6.5" height="7.6" fill="#1c1c1c" rx="1.2"/>
<rect x="86.8" y="214.2" width="6.5" height="7.6" fill="#1c1c1c" rx="1.2"/>
<rect x="314.7" y="214.2" width="6.5" height="7.6" fill="#1c1c1c" rx="1.2"/>
<rect x="86.8" y="239.2" width="6.5" height="7.6" fill="#1c1c1c" rx="1.2"/>
<rect x="314.7" y="239.2" width="6.5" height="7.6" fill="#1c1c1c" rx="1.2"/>
<rect x="86.8" y="264.2" width="6.5" height="7.6" fill="#1c1c1c" rx="1.2"/>
<rect x="314.7" y="264.2" width="6.5" height="7.6" fill="#1c1c1c" rx="1.2"/>
<rect x="86.5" y="288.5" width="9.0" height="9.0" fill="#1c1c1c" rx="1.2"/>
<rect x="112.3" y="290.7" width="7.6" height="6.5" fill="#1c1c1c" rx="1.2"/>
<rect x="137.4" y="290.7" width="7.6" height="6.5" fill="#1c1c1c" rx="1.2"/>
<rect x="162.5" y="290.7" width="7.6" height="6.5" fill="#1c1c1c" rx="1.2"/>
<rect x="187.6" y="290.7" width="7.6" height="6.5" fill="#1c1c1c" rx="1.2"/>
<rect x="212.8" y="290.7" width="7.6" height="6.5" fill="#1c1c1c" rx="1.2"/>
<rect x="237.9" y="290.7" width="7.6" height="6.5" fill="#1c1c1c" rx="1.2"/>
<rect x="263.0" y="290.7" width="7.6" height="6.5" fill="#1c1c1c" rx="1.2"/>
<rect x="288.1" y="290.7" width="7.6" height="6.5" fill="#1c1c1c" rx="1.2"/>
<rect x="312.5" y="288.5" width="9.0" height="9.0" fill="#1c1c1c" rx="1.2"/>
<rect x="620.4" y="142.8" width="225.1" height="150.2" fill="#e0f1e9" />
<rect x="807.6" y="167.5" width="37.9" height="25.0" fill="#d2eae7" />
<rect x="797.0" y="192.5" width="48.5" height="25.8" fill="#d9eeec" />
<rect x="802.5" y="218.3" width="43.0" height="27.2" fill="#d6e9f6" />
<rect x="646.0" y="249.0" width="74.6" height="44.0" fill="#e6ddf0" />
<rect x="656.0" y="245.5" width="14.0" height="3.5" fill="#e6ddf0" />
<rect x="770.0" y="245.5" width="75.5" height="47.5" fill="#f1e5f0" />
<rect x="721.7" y="258.5" width="5" height="6" fill="#f9fafb" fill-opacity="0.8" stroke="#cbcfd3" stroke-width="0.45"/>
<rect x="704.5" y="271.6" width="10" height="6" fill="#f9fafb" fill-opacity="0.8" stroke="#cbcfd3" stroke-width="0.45"/>
<rect x="747.1" y="166.4" width="6" height="4" fill="#f9fafb" fill-opacity="0.8" stroke="#cbcfd3" stroke-width="0.45"/>
<rect x="819.8" y="164.9" width="12" height="6" fill="#f9fafb" fill-opacity="0.8" stroke="#cbcfd3" stroke-width="0.45"/>
<rect x="681.2" y="161.7" width="14" height="10" fill="#f9fafb" fill-opacity="0.8" stroke="#cbcfd3" stroke-width="0.45"/>
<rect x="728.5" y="267.0" width="8" height="5" fill="#f9fafb" fill-opacity="0.8" stroke="#cbcfd3" stroke-width="0.45"/>
<rect x="657.3" y="278.1" width="10" height="4" fill="#f9fafb" fill-opacity="0.8" stroke="#cbcfd3" stroke-width="0.45"/>
<rect x="706.7" y="244.4" width="14" height="8" fill="#f9fafb" fill-opacity="0.8" stroke="#cbcfd3" stroke-width="0.45"/>
<rect x="702.3" y="163.3" width="10" height="6" fill="#f9fafb" fill-opacity="0.8" stroke="#cbcfd3" stroke-width="0.45"/>
<rect x="692.3" y="193.5" width="8" height="4" fill="#f9fafb" fill-opacity="0.8" stroke="#cbcfd3" stroke-width="0.45"/>
<rect x="819.0" y="173.9" width="10" height="4" fill="#f9fafb" fill-opacity="0.8" stroke="#cbcfd3" stroke-width="0.45"/>
<rect x="685.9" y="195.3" width="5" height="12" fill="#f9fafb" fill-opacity="0.8" stroke="#cbcfd3" stroke-width="0.45"/>
<rect x="831.2" y="225.9" width="10" height="8" fill="#f9fafb" fill-opacity="0.8" stroke="#cbcfd3" stroke-width="0.45"/>
<rect x="782.4" y="261.4" width="8" height="8" fill="#f9fafb" fill-opacity="0.8" stroke="#cbcfd3" stroke-width="0.45"/>
<rect x="635.2" y="238.3" width="8" height="4" fill="#f9fafb" fill-opacity="0.8" stroke="#cbcfd3" stroke-width="0.45"/>
<rect x="675.0" y="183.3" width="14" height="5" fill="#f9fafb" fill-opacity="0.8" stroke="#cbcfd3" stroke-width="0.45"/>
<rect x="663.3" y="197.7" width="12" height="6" fill="#f9fafb" fill-opacity="0.8" stroke="#cbcfd3" stroke-width="0.45"/>
<rect x="792.6" y="234.0" width="10" height="4" fill="#f9fafb" fill-opacity="0.8" stroke="#cbcfd3" stroke-width="0.45"/>
<rect x="666.1" y="157.5" width="12" height="10" fill="#f9fafb" fill-opacity="0.8" stroke="#cbcfd3" stroke-width="0.45"/>
<rect x="716.0" y="247.8" width="14" height="8" fill="#f9fafb" fill-opacity="0.8" stroke="#cbcfd3" stroke-width="0.45"/>
<rect x="723.0" y="271.0" width="14" height="6" fill="#f9fafb" fill-opacity="0.8" stroke="#cbcfd3" stroke-width="0.45"/>
<rect x="659.4" y="203.7" width="12" height="5" fill="#f9fafb" fill-opacity="0.8" stroke="#cbcfd3" stroke-width="0.45"/>
<rect x="677.9" y="247.4" width="8" height="6" fill="#f9fafb" fill-opacity="0.8" stroke="#cbcfd3" stroke-width="0.45"/>
<rect x="706.9" y="179.3" width="14" height="6" fill="#f9fafb" fill-opacity="0.8" stroke="#cbcfd3" stroke-width="0.45"/>
<rect x="762.9" y="162.6" width="10" height="10" fill="#f9fafb" fill-opacity="0.8" stroke="#cbcfd3" stroke-width="0.45"/>
<rect x="639.7" y="215.5" width="14" height="5" fill="#f9fafb" fill-opacity="0.8" stroke="#cbcfd3" stroke-width="0.45"/>
<rect x="670.0" y="266.6" width="10" height="10" fill="#f9fafb" fill-opacity="0.8" stroke="#cbcfd3" stroke-width="0.45"/>
<rect x="653.3" y="172.6" width="10" height="8" fill="#f9fafb" fill-opacity="0.8" stroke="#cbcfd3" stroke-width="0.45"/>
<rect x="696.9" y="159.3" width="5" height="5" fill="#f9fafb" fill-opacity="0.8" stroke="#cbcfd3" stroke-width="0.45"/>
<rect x="678.9" y="224.4" width="6" height="6" fill="#f9fafb" fill-opacity="0.8" stroke="#cbcfd3" stroke-width="0.45"/>
<rect x="809.1" y="196.6" width="5" height="12" fill="#f9fafb" fill-opacity="0.8" stroke="#cbcfd3" stroke-width="0.45"/>
<rect x="667.1" y="182.5" width="14" height="10" fill="#f9fafb" fill-opacity="0.8" stroke="#cbcfd3" stroke-width="0.45"/>
<rect x="683.3" y="276.7" width="5" height="8" fill="#f9fafb" fill-opacity="0.8" stroke="#cbcfd3" stroke-width="0.45"/>
<rect x="730.7" y="228.8" width="6" height="12" fill="#f9fafb" fill-opacity="0.8" stroke="#cbcfd3" stroke-width="0.45"/>
<rect x="681.6" y="181.1" width="6" height="4" fill="#f9fafb" fill-opacity="0.8" stroke="#cbcfd3" stroke-width="0.45"/>
<rect x="716.7" y="271.0" width="10" height="12" fill="#f9fafb" fill-opacity="0.8" stroke="#cbcfd3" stroke-width="0.45"/>
<rect x="631.2" y="244.1" width="5" height="5" fill="#f9fafb" fill-opacity="0.8" stroke="#cbcfd3" stroke-width="0.45"/>
<rect x="725.8" y="156.5" width="10" height="10" fill="#f9fafb" fill-opacity="0.8" stroke="#cbcfd3" stroke-width="0.45"/>
<rect x="823.8" y="180.1" width="12" height="8" fill="#f9fafb" fill-opacity="0.8" stroke="#cbcfd3" stroke-width="0.45"/>
<rect x="657.1" y="218.5" width="5" height="5" fill="#f9fafb" fill-opacity="0.8" stroke="#cbcfd3" stroke-width="0.45"/>
<rect x="815.6" y="246.5" width="14" height="4" fill="#f9fafb" fill-opacity="0.8" stroke="#cbcfd3" stroke-width="0.45"/>
<rect x="641.7" y="251.1" width="14" height="8" fill="#f9fafb" fill-opacity="0.8" stroke="#cbcfd3" stroke-width="0.45"/>
<rect x="673.7" y="273.0" width="5" height="5" fill="#f9fafb" fill-opacity="0.8" stroke="#cbcfd3" stroke-width="0.45"/>
<rect x="686.1" y="163.5" width="14" height="12" fill="#f9fafb" fill-opacity="0.8" stroke="#cbcfd3" stroke-width="0.45"/>
<rect x="757.4" y="239.2" width="8" height="10" fill="#f9fafb" fill-opacity="0.8" stroke="#cbcfd3" stroke-width="0.45"/>
<rect x="639.3" y="219.3" width="5" height="4" fill="#f9fafb" fill-opacity="0.8" stroke="#cbcfd3" stroke-width="0.45"/>
<rect x="704.0" y="177.5" width="12" height="5" fill="#f9fafb" fill-opacity="0.8" stroke="#cbcfd3" stroke-width="0.45"/>
<rect x="626.5" y="188.5" width="12" height="4" fill="#f9fafb" fill-opacity="0.8" stroke="#cbcfd3" stroke-width="0.45"/>
<rect x="823.0" y="234.6" width="10" height="6" fill="#f9fafb" fill-opacity="0.8" stroke="#cbcfd3" stroke-width="0.45"/>
<rect x="735.5" y="220.2" width="6" height="8" fill="#f9fafb" fill-opacity="0.8" stroke="#cbcfd3" stroke-width="0.45"/>
<rect x="773.9" y="188.1" width="5" height="8" fill="#f9fafb" fill-opacity="0.8" stroke="#cbcfd3" stroke-width="0.45"/>
<rect x="730.1" y="239.3" width="5" height="5" fill="#f9fafb" fill-opacity="0.8" stroke="#cbcfd3" stroke-width="0.45"/>
<rect x="677.7" y="239.0" width="10" height="4" fill="#f9fafb" fill-opacity="0.8" stroke="#cbcfd3" stroke-width="0.45"/>
<rect x="727.5" y="242.3" width="8" height="5" fill="#f9fafb" fill-opacity="0.8" stroke="#cbcfd3" stroke-width="0.45"/>
<rect x="698.0" y="200.0" width="14" height="8" fill="#f9fafb" fill-opacity="0.8" stroke="#cbcfd3" stroke-width="0.45"/>
<rect x="781.2" y="215.6" width="5" height="6" fill="#f9fafb" fill-opacity="0.8" stroke="#cbcfd3" stroke-width="0.45"/>
<rect x="829.1" y="188.6" width="6" height="8" fill="#f9fafb" fill-opacity="0.8" stroke="#cbcfd3" stroke-width="0.45"/>
<rect x="722.6" y="183.2" width="6" height="5" fill="#f9fafb" fill-opacity="0.8" stroke="#cbcfd3" stroke-width="0.45"/>
<rect x="823.4" y="215.3" width="8" height="4" fill="#f9fafb" fill-opacity="0.8" stroke="#cbcfd3" stroke-width="0.45"/>
<rect x="726.8" y="271.7" width="6" height="5" fill="#f9fafb" fill-opacity="0.8" stroke="#cbcfd3" stroke-width="0.45"/>
<rect x="655.4" y="198.8" width="5" height="10" fill="#f9fafb" fill-opacity="0.8" stroke="#cbcfd3" stroke-width="0.45"/>
<rect x="830.0" y="166.4" width="6" height="4" fill="#f9fafb" fill-opacity="0.8" stroke="#cbcfd3" stroke-width="0.45"/>
<rect x="637.2" y="198.0" width="5" height="12" fill="#f9fafb" fill-opacity="0.8" stroke="#cbcfd3" stroke-width="0.45"/>
<rect x="773.2" y="282.7" width="14" height="6" fill="#f9fafb" fill-opacity="0.8" stroke="#cbcfd3" stroke-width="0.45"/>
<rect x="664.7" y="235.7" width="6" height="6" fill="#f9fafb" fill-opacity="0.8" stroke="#cbcfd3" stroke-width="0.45"/>
<rect x="720.3" y="187.4" width="12" height="12" fill="#f9fafb" fill-opacity="0.8" stroke="#cbcfd3" stroke-width="0.45"/>
<rect x="794.8" y="279.0" width="14" height="8" fill="#f9fafb" fill-opacity="0.8" stroke="#cbcfd3" stroke-width="0.45"/>
<rect x="647.0" y="157.5" width="10" height="5" fill="#f9fafb" fill-opacity="0.8" stroke="#cbcfd3" stroke-width="0.45"/>
<rect x="713.5" y="267.4" width="5" height="6" fill="#f9fafb" fill-opacity="0.8" stroke="#cbcfd3" stroke-width="0.45"/>
<rect x="702.4" y="252.3" width="12" height="5" fill="#f9fafb" fill-opacity="0.8" stroke="#cbcfd3" stroke-width="0.45"/>
<rect x="642.8" y="241.4" width="8" height="8" fill="#f9fafb" fill-opacity="0.8" stroke="#cbcfd3" stroke-width="0.45"/>
<rect x="738.7" y="207.6" width="6" height="6" fill="#f9fafb" fill-opacity="0.8" stroke="#cbcfd3" stroke-width="0.45"/>
<rect x="778.6" y="211.4" width="8" height="6" fill="#f9fafb" fill-opacity="0.8" stroke="#cbcfd3" stroke-width="0.45"/>
<rect x="674.8" y="230.7" width="14" height="8" fill="#f9fafb" fill-opacity="0.8" stroke="#cbcfd3" stroke-width="0.45"/>
<rect x="702.2" y="210.9" width="10" height="4" fill="#f9fafb" fill-opacity="0.8" stroke="#cbcfd3" stroke-width="0.45"/>
<rect x="665.7" y="155.4" width="5" height="6" fill="#f9fafb" fill-opacity="0.8" stroke="#cbcfd3" stroke-width="0.45"/>
<rect x="698.8" y="192.4" width="12" height="6" fill="#f9fafb" fill-opacity="0.8" stroke="#cbcfd3" stroke-width="0.45"/>
<rect x="678.2" y="245.8" width="12" height="4" fill="#f9fafb" fill-opacity="0.8" stroke="#cbcfd3" stroke-width="0.45"/>
<rect x="686.6" y="245.1" width="8" height="6" fill="#f9fafb" fill-opacity="0.8" stroke="#cbcfd3" stroke-width="0.45"/>
<rect x="818.5" y="155.3" width="12" height="12" fill="#f9fafb" fill-opacity="0.8" stroke="#cbcfd3" stroke-width="0.45"/>
<rect x="724.7" y="279.0" width="6" height="4" fill="#f9fafb" fill-opacity="0.8" stroke="#cbcfd3" stroke-width="0.45"/>
<rect x="813.6" y="257.8" width="10" height="6" fill="#f9fafb" fill-opacity="0.8" stroke="#cbcfd3" stroke-width="0.45"/>
<rect x="663.0" y="254.5" width="6" height="8" fill="#f9fafb" fill-opacity="0.8" stroke="#cbcfd3" stroke-width="0.45"/>
<rect x="791.5" y="252.1" width="14" height="6" fill="#f9fafb" fill-opacity="0.8" stroke="#cbcfd3" stroke-width="0.45"/>
<rect x="691.6" y="190.6" width="12" height="5" fill="#f9fafb" fill-opacity="0.8" stroke="#cbcfd3" stroke-width="0.45"/>
<rect x="640.9" y="172.9" width="8" height="10" fill="#f9fafb" fill-opacity="0.8" stroke="#cbcfd3" stroke-width="0.45"/>
<rect x="710.5" y="235.9" width="6" height="5" fill="#f9fafb" fill-opacity="0.8" stroke="#cbcfd3" stroke-width="0.45"/>
<rect x="737.2" y="168.0" width="10" height="10" fill="#f9fafb" fill-opacity="0.8" stroke="#cbcfd3" stroke-width="0.45"/>
<rect x="829.0" y="183.4" width="10" height="4" fill="#f9fafb" fill-opacity="0.8" stroke="#cbcfd3" stroke-width="0.45"/>
<rect x="644.9" y="215.2" width="5" height="5" fill="#f9fafb" fill-opacity="0.8" stroke="#cbcfd3" stroke-width="0.45"/>
<rect x="659.6" y="164.6" width="14" height="8" fill="#f9fafb" fill-opacity="0.8" stroke="#cbcfd3" stroke-width="0.45"/>
<rect x="809.0" y="177.9" width="10" height="10" fill="#f9fafb" fill-opacity="0.8" stroke="#cbcfd3" stroke-width="0.45"/>
<rect x="780.2" y="248.3" width="12" height="12" fill="#f9fafb" fill-opacity="0.8" stroke="#cbcfd3" stroke-width="0.45"/>
<rect x="682.8" y="183.3" width="8" height="6" fill="#f9fafb" fill-opacity="0.8" stroke="#cbcfd3" stroke-width="0.45"/>
<rect x="678.8" y="204.0" width="8" height="12" fill="#f9fafb" fill-opacity="0.8" stroke="#cbcfd3" stroke-width="0.45"/>
<rect x="674.1" y="185.4" width="6" height="5" fill="#f9fafb" fill-opacity="0.8" stroke="#cbcfd3" stroke-width="0.45"/>
<rect x="691.3" y="201.1" width="12" height="5" fill="#f9fafb" fill-opacity="0.8" stroke="#cbcfd3" stroke-width="0.45"/>
<rect x="735.5" y="232.7" width="6" height="10" fill="#f9fafb" fill-opacity="0.8" stroke="#cbcfd3" stroke-width="0.45"/>
<rect x="722.8" y="151.6" width="5" height="12" fill="#f9fafb" fill-opacity="0.8" stroke="#cbcfd3" stroke-width="0.45"/>
<rect x="811.6" y="177.8" width="5" height="8" fill="#f9fafb" fill-opacity="0.8" stroke="#cbcfd3" stroke-width="0.45"/>
<rect x="632.8" y="186.8" width="10" height="6" fill="#f9fafb" fill-opacity="0.8" stroke="#cbcfd3" stroke-width="0.45"/>
<rect x="664.6" y="281.3" width="5" height="4" fill="#f9fafb" fill-opacity="0.8" stroke="#cbcfd3" stroke-width="0.45"/>
<rect x="815.2" y="197.9" width="12" height="5" fill="#f9fafb" fill-opacity="0.8" stroke="#cbcfd3" stroke-width="0.45"/>
<rect x="751.7" y="250.8" width="6" height="8" fill="#f9fafb" fill-opacity="0.8" stroke="#cbcfd3" stroke-width="0.45"/>
<rect x="645.9" y="229.2" width="14" height="4" fill="#f9fafb" fill-opacity="0.8" stroke="#cbcfd3" stroke-width="0.45"/>
<rect x="755.7" y="178.1" width="5" height="1.1" fill="#a3a6aa"/>
<rect x="696.8" y="153.9" width="5" height="1.1" fill="#a3a6aa"/>
<rect x="633.4" y="249.7" width="4" height="1.1" fill="#a3a6aa"/>
<rect x="796.6" y="261.8" width="5" height="1.1" fill="#a3a6aa"/>
<rect x="767.9" y="173.6" width="5" height="1.1" fill="#a3a6aa"/>
<rect x="641.8" y="152.2" width="5" height="1.1" fill="#a3a6aa"/>
<rect x="740.5" y="156.6" width="4" height="1.1" fill="#a3a6aa"/>
<rect x="792.6" y="240.2" width="4" height="1.1" fill="#a3a6aa"/>
<rect x="759.7" y="160.5" width="4" height="1.1" fill="#a3a6aa"/>
<rect x="709.0" y="185.5" width="5" height="1.1" fill="#a3a6aa"/>
<rect x="765.7" y="206.0" width="4" height="1.1" fill="#a3a6aa"/>
<rect x="691.0" y="226.7" width="5" height="1.1" fill="#a3a6aa"/>
<rect x="712.4" y="150.3" width="5" height="1.1" fill="#a3a6aa"/>
<rect x="760.8" y="202.2" width="5" height="1.1" fill="#a3a6aa"/>
<rect x="668.2" y="148.6" width="4" height="1.1" fill="#a3a6aa"/>
<rect x="714.4" y="262.0" width="5" height="1.1" fill="#a3a6aa"/>
<rect x="746.8" y="198.6" width="4" height="1.1" fill="#a3a6aa"/>
<rect x="652.7" y="155.0" width="4" height="1.1" fill="#a3a6aa"/>
<rect x="760.0" y="274.4" width="4" height="1.1" fill="#a3a6aa"/>
<rect x="745.8" y="276.9" width="6" height="1.1" fill="#a3a6aa"/>
<rect x="731.4" y="168.1" width="5" height="1.1" fill="#a3a6aa"/>
<rect x="659.4" y="171.7" width="4" height="1.1" fill="#a3a6aa"/>
<rect x="648.3" y="216.1" width="4" height="1.1" fill="#a3a6aa"/>
<rect x="688.8" y="264.4" width="4" height="1.1" fill="#a3a6aa"/>
<rect x="830.4" y="215.0" width="4" height="1.1" fill="#a3a6aa"/>
<rect x="753.1" y="236.4" width="4" height="1.1" fill="#a3a6aa"/>
<rect x="815.4" y="234.2" width="4" height="1.1" fill="#a3a6aa"/>
<rect x="759.9" y="267.0" width="6" height="1.1" fill="#a3a6aa"/>
<rect x="710.4" y="265.6" width="5" height="1.1" fill="#a3a6aa"/>
<rect x="663.8" y="178.2" width="5" height="1.1" fill="#a3a6aa"/>
<rect x="822.6" y="169.6" width="5" height="1.1" fill="#a3a6aa"/>
<rect x="651.3" y="182.2" width="6" height="1.1" fill="#a3a6aa"/>
<rect x="796.8" y="174.6" width="6" height="1.1" fill="#a3a6aa"/>
<rect x="802.4" y="241.4" width="6" height="1.1" fill="#a3a6aa"/>
<rect x="801.5" y="164.2" width="6" height="1.1" fill="#a3a6aa"/>
<rect x="721.1" y="266.0" width="5" height="1.1" fill="#a3a6aa"/>
<rect x="761.8" y="190.7" width="4" height="1.1" fill="#a3a6aa"/>
<rect x="714.8" y="239.5" width="5" height="1.1" fill="#a3a6aa"/>
<rect x="731.2" y="172.7" width="4" height="1.1" fill="#a3a6aa"/>
<rect x="755.4" y="215.9" width="4" height="1.1" fill="#a3a6aa"/>
<rect x="719.3" y="233.9" width="5" height="1.1" fill="#a3a6aa"/>
<rect x="801.2" y="260.6" width="5" height="1.1" fill="#a3a6aa"/>
<rect x="647.9" y="165.7" width="5" height="1.1" fill="#a3a6aa"/>
<rect x="702.2" y="259.5" width="6" height="1.1" fill="#a3a6aa"/>
<rect x="732.6" y="153.5" width="6" height="1.1" fill="#a3a6aa"/>
<rect x="652.8" y="276.2" width="5" height="1.1" fill="#a3a6aa"/>
<rect x="788.8" y="219.0" width="4" height="1.1" fill="#a3a6aa"/>
<rect x="783.4" y="272.4" width="6" height="1.1" fill="#a3a6aa"/>
<rect x="825.2" y="166.8" width="4" height="1.1" fill="#a3a6aa"/>
<rect x="834.7" y="249.7" width="4" height="1.1" fill="#a3a6aa"/>
<rect x="666.1" y="284.5" width="5" height="1.1" fill="#a3a6aa"/>
<rect x="685.9" y="260.7" width="4" height="1.1" fill="#a3a6aa"/>
<rect x="769.6" y="248.2" width="4" height="1.1" fill="#a3a6aa"/>
<rect x="639.2" y="196.6" width="5" height="1.1" fill="#a3a6aa"/>
<rect x="658.8" y="272.6" width="5" height="1.1" fill="#a3a6aa"/>
<rect x="815.6" y="211.3" width="5" height="1.1" fill="#a3a6aa"/>
<rect x="730.9" y="275.9" width="4" height="1.1" fill="#a3a6aa"/>
<rect x="749.8" y="233.5" width="4" height="1.1" fill="#a3a6aa"/>
<rect x="692.4" y="152.9" width="4" height="1.1" fill="#a3a6aa"/>
<rect x="710.2" y="236.4" width="5" height="1.1" fill="#a3a6aa"/>
<rect x="768.2" y="272.4" width="4" height="1.1" fill="#a3a6aa"/>
<rect x="791.8" y="184.6" width="6" height="1.1" fill="#a3a6aa"/>
<rect x="635.6" y="267.3" width="5" height="1.1" fill="#a3a6aa"/>
<circle cx="750.0" cy="270.8" r="0.9" fill="#c8385a"/>
<rect x="671.0" y="190.0" width="126.0" height="55.5" fill="#ffffff" />
<rect x="669.0" y="203.7" width="128.0" height="29.6" fill="#ffffff" />
<line x1="685.0" y1="210.5" x2="685.0" y2="226.0" stroke="#cfcfcf" stroke-width="0.41"/>
<line x1="688.1" y1="210.5" x2="688.1" y2="226.0" stroke="#cfcfcf" stroke-width="0.41"/>
<line x1="691.2" y1="210.5" x2="691.2" y2="226.0" stroke="#cfcfcf" stroke-width="0.41"/>
<line x1="694.3" y1="210.5" x2="694.3" y2="226.0" stroke="#cfcfcf" stroke-width="0.41"/>
<line x1="697.4" y1="210.5" x2="697.4" y2="226.0" stroke="#cfcfcf" stroke-width="0.41"/>
<line x1="700.6" y1="210.5" x2="700.6" y2="226.0" stroke="#cfcfcf" stroke-width="0.41"/>
<line x1="703.7" y1="210.5" x2="703.7" y2="226.0" stroke="#cfcfcf" stroke-width="0.41"/>
<line x1="706.8" y1="210.5" x2="706.8" y2="226.0" stroke="#cfcfcf" stroke-width="0.41"/>
<line x1="709.9" y1="210.5" x2="709.9" y2="226.0" stroke="#cfcfcf" stroke-width="0.41"/>
<line x1="713.0" y1="210.5" x2="713.0" y2="226.0" stroke="#cfcfcf" stroke-width="0.41"/>
<line x1="685.0" y1="210.5" x2="713.0" y2="210.5" stroke="#cfcfcf" stroke-width="0.41"/>
<line x1="685.0" y1="215.7" x2="713.0" y2="215.7" stroke="#cfcfcf" stroke-width="0.41"/>
<line x1="685.0" y1="220.8" x2="713.0" y2="220.8" stroke="#cfcfcf" stroke-width="0.41"/>
<line x1="685.0" y1="226.0" x2="713.0" y2="226.0" stroke="#cfcfcf" stroke-width="0.41"/>
<line x1="669.0" y1="203.7" x2="723.5" y2="203.7" stroke="#2e2e2e" stroke-width="1.60"/>
<line x1="669.0" y1="208.4" x2="719.9" y2="208.4" stroke="#2e2e2e" stroke-width="1.60"/>
<line x1="669.5" y1="228.3" x2="720.6" y2="228.3" stroke="#2e2e2e" stroke-width="1.60"/>
<line x1="669.5" y1="233.3" x2="723.3" y2="233.3" stroke="#2e2e2e" stroke-width="1.60"/>
<line x1="669.0" y1="203.7" x2="669.0" y2="233.3" stroke="#2e2e2e" stroke-width="1.60"/>
<line x1="675.0" y1="208.4" x2="675.0" y2="228.3" stroke="#2e2e2e" stroke-width="1.00"/>
<line x1="720.4" y1="203.7" x2="720.4" y2="215.7" stroke="#2e2e2e" stroke-width="1.60"/>
<line x1="720.6" y1="224.0" x2="720.6" y2="233.3" stroke="#2e2e2e" stroke-width="1.60"/>
<line x1="734.8" y1="203.6" x2="755.7" y2="203.6" stroke="#2e2e2e" stroke-width="1.60"/>
<line x1="734.8" y1="203.6" x2="734.8" y2="232.2" stroke="#2e2e2e" stroke-width="1.60"/>
<line x1="755.7" y1="203.6" x2="755.7" y2="208.4" stroke="#2e2e2e" stroke-width="1.60"/>
<line x1="755.7" y1="227.3" x2="755.7" y2="232.2" stroke="#2e2e2e" stroke-width="1.60"/>
<line x1="734.8" y1="218.3" x2="755.6" y2="218.3" stroke="#2e2e2e" stroke-width="1.60"/>
<line x1="734.8" y1="232.2" x2="755.6" y2="232.2" stroke="#2e2e2e" stroke-width="1.60"/>
<line x1="766.2" y1="204.2" x2="796.0" y2="204.2" stroke="#2e2e2e" stroke-width="1.60"/>
<rect x="766.2" y="204.2" width="8.9" height="3.1" fill="none" stroke="#2e2e2e" stroke-width="1.00"/>
<line x1="775.0" y1="218.3" x2="796.0" y2="218.3" stroke="#2e2e2e" stroke-width="1.60"/>
<line x1="775.1" y1="204.2" x2="775.1" y2="208.4" stroke="#2e2e2e" stroke-width="1.60"/>
<line x1="775.1" y1="227.3" x2="775.1" y2="232.2" stroke="#2e2e2e" stroke-width="1.60"/>
<line x1="766.7" y1="232.2" x2="796.7" y2="232.2" stroke="#2e2e2e" stroke-width="1.60"/>
<rect x="766.7" y="229.4" width="8.3" height="2.8" fill="none" stroke="#2e2e2e" stroke-width="1.00"/>
<line x1="796.6" y1="201.0" x2="796.6" y2="232.8" stroke="#2e2e2e" stroke-width="2.00"/>
<line x1="735.5" y1="204.5" x2="755.0" y2="218.0" stroke="#d8d8d8" stroke-width="0.36"/>
<line x1="735.5" y1="218.0" x2="755.0" y2="204.5" stroke="#d8d8d8" stroke-width="0.36"/>
<line x1="735.5" y1="218.8" x2="755.0" y2="231.5" stroke="#d8d8d8" stroke-width="0.36"/>
<line x1="735.5" y1="231.5" x2="755.0" y2="218.8" stroke="#d8d8d8" stroke-width="0.36"/>
<line x1="775.8" y1="205.0" x2="795.5" y2="218.0" stroke="#d8d8d8" stroke-width="0.36"/>
<line x1="775.8" y1="218.0" x2="795.5" y2="205.0" stroke="#d8d8d8" stroke-width="0.36"/>
<line x1="775.8" y1="218.8" x2="795.5" y2="231.5" stroke="#d8d8d8" stroke-width="0.36"/>
<line x1="775.8" y1="231.5" x2="795.5" y2="218.8" stroke="#d8d8d8" stroke-width="0.36"/>
<line x1="646.0" y1="141.8" x2="646.0" y2="170.1" stroke="#2e2e2e" stroke-width="2.00"/>
<line x1="646.0" y1="170.1" x2="671.1" y2="170.1" stroke="#2e2e2e" stroke-width="2.00"/>
<line x1="671.1" y1="165.4" x2="671.1" y2="192.7" stroke="#2e2e2e" stroke-width="2.00"/>
<line x1="671.1" y1="165.4" x2="685.3" y2="165.4" stroke="#2e2e2e" stroke-width="1.60"/>
<line x1="685.3" y1="165.4" x2="685.3" y2="190.6" stroke="#2e2e2e" stroke-width="1.60"/>
<rect x="671.1" y="186.9" width="14.2" height="3.7" fill="none" stroke="#2e2e2e" stroke-width="1.60"/>
<line x1="695.8" y1="141.8" x2="695.8" y2="161.2" stroke="#2e2e2e" stroke-width="2.00"/>
<line x1="696.3" y1="169.6" x2="696.3" y2="175.9" stroke="#2e2e2e" stroke-width="1.00"/>
<line x1="696.3" y1="175.9" x2="700.5" y2="175.9" stroke="#2e2e2e" stroke-width="1.00"/>
<line x1="700.5" y1="175.9" x2="700.5" y2="190.0" stroke="#2e2e2e" stroke-width="1.60"/>
<line x1="694.7" y1="190.0" x2="714.6" y2="190.0" stroke="#2e2e2e" stroke-width="2.00"/>
<line x1="714.6" y1="168.5" x2="714.6" y2="190.0" stroke="#2e2e2e" stroke-width="2.00"/>
<line x1="714.6" y1="168.5" x2="734.0" y2="168.5" stroke="#2e2e2e" stroke-width="2.00"/>
<line x1="720.4" y1="141.8" x2="720.4" y2="168.5" stroke="#2e2e2e" stroke-width="2.00"/>
<rect x="714.6" y="186.3" width="14.7" height="4.2" fill="none" stroke="#2e2e2e" stroke-width="1.60"/>
<line x1="729.3" y1="169.6" x2="729.3" y2="190.5" stroke="#2e2e2e" stroke-width="1.00"/>
<line x1="619.8" y1="180.6" x2="646.5" y2="180.6" stroke="#2e2e2e" stroke-width="2.00"/>
<line x1="654.9" y1="180.0" x2="654.9" y2="188.5" stroke="#2e2e2e" stroke-width="1.00"/>
<line x1="654.9" y1="185.3" x2="669.6" y2="185.3" stroke="#2e2e2e" stroke-width="1.00"/>
<line x1="649.6" y1="202.1" x2="671.1" y2="202.1" stroke="#2e2e2e" stroke-width="1.60"/>
<line x1="650.2" y1="202.1" x2="650.2" y2="217.8" stroke="#2e2e2e" stroke-width="1.00"/>
<line x1="620.0" y1="217.8" x2="669.5" y2="217.8" stroke="#2e2e2e" stroke-width="2.00"/>
<line x1="670.6" y1="191.6" x2="670.6" y2="202.1" stroke="#2e2e2e" stroke-width="1.60"/>
<line x1="745.2" y1="145.0" x2="745.2" y2="169.6" stroke="#2e2e2e" stroke-width="1.60"/>
<rect x="743.7" y="186.3" width="42.4" height="4.7" fill="none" stroke="#2e2e2e" stroke-width="2.00"/>
<line x1="742.6" y1="178.0" x2="742.6" y2="189.5" stroke="#2e2e2e" stroke-width="1.00"/>
<line x1="738.0" y1="178.0" x2="742.6" y2="178.0" stroke="#2e2e2e" stroke-width="1.00"/>
<line x1="769.9" y1="141.8" x2="769.9" y2="186.3" stroke="#2e2e2e" stroke-width="2.00"/>
<line x1="770.9" y1="167.5" x2="784.5" y2="167.5" stroke="#2e2e2e" stroke-width="1.60"/>
<line x1="784.5" y1="167.5" x2="784.5" y2="186.3" stroke="#2e2e2e" stroke-width="1.60"/>
<line x1="795.0" y1="167.5" x2="845.3" y2="167.5" stroke="#2e2e2e" stroke-width="2.00"/>
<line x1="819.1" y1="152.3" x2="819.1" y2="167.5" stroke="#2e2e2e" stroke-width="1.00"/>
<line x1="807.6" y1="167.5" x2="807.6" y2="180.0" stroke="#2e2e2e" stroke-width="2.00"/>
<line x1="797.1" y1="180.0" x2="807.6" y2="180.0" stroke="#2e2e2e" stroke-width="2.00"/>
<line x1="797.1" y1="180.0" x2="797.1" y2="193.7" stroke="#2e2e2e" stroke-width="2.00"/>
<line x1="808.6" y1="168.5" x2="808.6" y2="192.1" stroke="#2e2e2e" stroke-width="1.60"/>
<line x1="808.6" y1="192.1" x2="815.0" y2="192.1" stroke="#2e2e2e" stroke-width="2.00"/>
<line x1="833.8" y1="192.1" x2="845.3" y2="192.1" stroke="#2e2e2e" stroke-width="2.00"/>
<line x1="815.0" y1="192.1" x2="833.8" y2="192.1" stroke="#888" stroke-width="0.72"/>
<line x1="798.2" y1="203.6" x2="819.6" y2="203.6" stroke="#2e2e2e" stroke-width="1.00"/>
<line x1="819.6" y1="203.6" x2="819.6" y2="217.8" stroke="#2e2e2e" stroke-width="1.00"/>
<line x1="803.4" y1="203.6" x2="803.4" y2="217.8" stroke="#2e2e2e" stroke-width="0.72"/>
<line x1="797.8" y1="217.8" x2="845.6" y2="217.8" stroke="#2e2e2e" stroke-width="1.60"/>
<line x1="650.1" y1="210.0" x2="650.1" y2="233.9" stroke="#2e2e2e" stroke-width="1.00"/>
<line x1="650.1" y1="233.9" x2="669.5" y2="233.9" stroke="#2e2e2e" stroke-width="1.00"/>
<line x1="669.5" y1="210.0" x2="669.5" y2="233.9" stroke="#2e2e2e" stroke-width="2.00"/>
<line x1="620.0" y1="255.5" x2="646.2" y2="255.5" stroke="#2e2e2e" stroke-width="2.00"/>
<line x1="646.2" y1="265.5" x2="646.2" y2="292.7" stroke="#2e2e2e" stroke-width="2.00"/>
<line x1="646.2" y1="265.5" x2="656.2" y2="265.5" stroke="#2e2e2e" stroke-width="2.00"/>
<line x1="655.6" y1="249.4" x2="655.6" y2="265.5" stroke="#2e2e2e" stroke-width="2.00"/>
<line x1="655.6" y1="249.4" x2="669.0" y2="249.4" stroke="#2e2e2e" stroke-width="2.00"/>
<line x1="669.0" y1="245.0" x2="669.0" y2="249.4" stroke="#2e2e2e" stroke-width="2.00"/>
<line x1="669.0" y1="245.5" x2="702.0" y2="245.5" stroke="#2e2e2e" stroke-width="2.00"/>
<line x1="672.7" y1="248.9" x2="691.6" y2="248.9" stroke="#2e2e2e" stroke-width="1.00"/>
<line x1="670.6" y1="245.0" x2="670.6" y2="286.6" stroke="#2e2e2e" stroke-width="1.60"/>
<line x1="693.4" y1="248.9" x2="693.4" y2="257.7" stroke="#2e2e2e" stroke-width="1.60"/>
<line x1="693.4" y1="257.7" x2="698.0" y2="257.7" stroke="#2e2e2e" stroke-width="1.00"/>
<line x1="695.6" y1="267.7" x2="695.6" y2="292.7" stroke="#2e2e2e" stroke-width="1.60"/>
<line x1="707.3" y1="246.0" x2="707.3" y2="266.6" stroke="#2e2e2e" stroke-width="1.60"/>
<line x1="703.4" y1="267.7" x2="719.5" y2="267.7" stroke="#2e2e2e" stroke-width="1.60"/>
<line x1="707.3" y1="248.9" x2="720.6" y2="248.9" stroke="#2e2e2e" stroke-width="1.60"/>
<line x1="720.6" y1="245.5" x2="720.6" y2="292.7" stroke="#2e2e2e" stroke-width="2.00"/>
<line x1="702.0" y1="245.5" x2="720.6" y2="245.5" stroke="#2e2e2e" stroke-width="2.00"/>
<line x1="815.6" y1="218.9" x2="815.6" y2="232.2" stroke="#2e2e2e" stroke-width="1.00"/>
<line x1="796.2" y1="232.2" x2="802.8" y2="232.2" stroke="#2e2e2e" stroke-width="2.00"/>
<line x1="802.8" y1="232.2" x2="802.8" y2="245.2" stroke="#2e2e2e" stroke-width="2.00"/>
<line x1="720.6" y1="245.5" x2="749.0" y2="245.5" stroke="#2e2e2e" stroke-width="2.00"/>
<line x1="720.6" y1="249.4" x2="744.0" y2="249.4" stroke="#2e2e2e" stroke-width="1.00"/>
<line x1="744.0" y1="245.5" x2="744.0" y2="258.3" stroke="#2e2e2e" stroke-width="1.00"/>
<line x1="744.0" y1="258.3" x2="749.0" y2="258.3" stroke="#2e2e2e" stroke-width="1.00"/>
<line x1="756.8" y1="245.5" x2="756.8" y2="267.7" stroke="#2e2e2e" stroke-width="1.00"/>
<rect x="757.3" y="245.5" width="8.9" height="3.9" fill="none" stroke="#2e2e2e" stroke-width="1.00"/>
<line x1="756.8" y1="245.5" x2="786.7" y2="245.5" stroke="#2e2e2e" stroke-width="2.00"/>
<line x1="770.1" y1="245.5" x2="770.1" y2="292.7" stroke="#2e2e2e" stroke-width="2.00"/>
<line x1="745.7" y1="267.7" x2="745.7" y2="292.7" stroke="#2e2e2e" stroke-width="2.00"/>
<line x1="752.9" y1="267.7" x2="769.0" y2="267.7" stroke="#2e2e2e" stroke-width="1.00"/>
<line x1="786.7" y1="245.5" x2="786.7" y2="263.3" stroke="#2e2e2e" stroke-width="1.60"/>
<line x1="771.2" y1="263.3" x2="786.7" y2="263.3" stroke="#2e2e2e" stroke-width="1.00"/>
<line x1="771.2" y1="273.3" x2="786.7" y2="273.3" stroke="#2e2e2e" stroke-width="1.00"/>
<line x1="786.7" y1="270.0" x2="786.7" y2="273.3" stroke="#2e2e2e" stroke-width="1.00"/>
<line x1="794.5" y1="245.5" x2="802.3" y2="245.5" stroke="#2e2e2e" stroke-width="1.60"/>
<line x1="802.3" y1="245.5" x2="802.3" y2="258.3" stroke="#2e2e2e" stroke-width="1.60"/>
<line x1="802.3" y1="249.4" x2="815.6" y2="249.4" stroke="#2e2e2e" stroke-width="2.00"/>
<line x1="815.6" y1="245.5" x2="815.6" y2="258.3" stroke="#2e2e2e" stroke-width="2.00"/>
<line x1="815.6" y1="245.5" x2="845.6" y2="245.5" stroke="#2e2e2e" stroke-width="2.00"/>
<line x1="797.8" y1="258.3" x2="806.7" y2="258.3" stroke="#2e2e2e" stroke-width="1.00"/>
<line x1="815.6" y1="258.3" x2="820.0" y2="258.3" stroke="#2e2e2e" stroke-width="1.00"/>
<line x1="795.0" y1="267.7" x2="845.6" y2="267.7" stroke="#2e2e2e" stroke-width="2.00"/>
<line x1="820.6" y1="275.5" x2="820.6" y2="292.7" stroke="#2e2e2e" stroke-width="1.60"/>
<rect x="620.6999999999999" y="143.10000000000002" width="224.50000000000003" height="149.6" fill="none" stroke="#dde0e3" stroke-width="2.8"/>
<rect x="619.4" y="141.8" width="227.10000000000002" height="152.2" fill="none" stroke="#a6abb0" stroke-width="0.6"/>
<rect x="622.1" y="144.5" width="221.70000000000002" height="146.79999999999998" fill="none" stroke="#b3b7bc" stroke-width="0.5"/>
<rect x="615.9" y="138.3" width="9.0" height="9.0" fill="#1c1c1c" rx="1.2"/>
<rect x="641.6" y="138.6" width="7.6" height="6.5" fill="#1c1c1c" rx="1.2"/>
<rect x="666.6" y="138.6" width="7.6" height="6.5" fill="#1c1c1c" rx="1.2"/>
<rect x="691.6" y="138.6" width="7.6" height="6.5" fill="#1c1c1c" rx="1.2"/>
<rect x="716.6" y="138.6" width="7.6" height="6.5" fill="#1c1c1c" rx="1.2"/>
<rect x="741.7" y="138.6" width="7.6" height="6.5" fill="#1c1c1c" rx="1.2"/>
<rect x="766.7" y="138.6" width="7.6" height="6.5" fill="#1c1c1c" rx="1.2"/>
<rect x="791.7" y="138.6" width="7.6" height="6.5" fill="#1c1c1c" rx="1.2"/>
<rect x="816.7" y="138.6" width="7.6" height="6.5" fill="#1c1c1c" rx="1.2"/>
<rect x="841.0" y="138.3" width="9.0" height="9.0" fill="#1c1c1c" rx="1.2"/>
<rect x="616.2" y="164.0" width="6.5" height="7.6" fill="#1c1c1c" rx="1.2"/>
<rect x="843.2" y="164.0" width="6.5" height="7.6" fill="#1c1c1c" rx="1.2"/>
<rect x="616.2" y="189.1" width="6.5" height="7.6" fill="#1c1c1c" rx="1.2"/>
<rect x="843.2" y="189.1" width="6.5" height="7.6" fill="#1c1c1c" rx="1.2"/>
<rect x="616.2" y="214.1" width="6.5" height="7.6" fill="#1c1c1c" rx="1.2"/>
<rect x="843.2" y="214.1" width="6.5" height="7.6" fill="#1c1c1c" rx="1.2"/>
<rect x="616.2" y="239.1" width="6.5" height="7.6" fill="#1c1c1c" rx="1.2"/>
<rect x="843.2" y="239.1" width="6.5" height="7.6" fill="#1c1c1c" rx="1.2"/>
<rect x="616.2" y="264.2" width="6.5" height="7.6" fill="#1c1c1c" rx="1.2"/>
<rect x="843.2" y="264.2" width="6.5" height="7.6" fill="#1c1c1c" rx="1.2"/>
<rect x="615.9" y="288.5" width="9.0" height="9.0" fill="#1c1c1c" rx="1.2"/>
<rect x="641.6" y="290.7" width="7.6" height="6.5" fill="#1c1c1c" rx="1.2"/>
<rect x="666.6" y="290.7" width="7.6" height="6.5" fill="#1c1c1c" rx="1.2"/>
<rect x="691.6" y="290.7" width="7.6" height="6.5" fill="#1c1c1c" rx="1.2"/>
<rect x="716.6" y="290.7" width="7.6" height="6.5" fill="#1c1c1c" rx="1.2"/>
<rect x="741.7" y="290.7" width="7.6" height="6.5" fill="#1c1c1c" rx="1.2"/>
<rect x="766.7" y="290.7" width="7.6" height="6.5" fill="#1c1c1c" rx="1.2"/>
<rect x="791.7" y="290.7" width="7.6" height="6.5" fill="#1c1c1c" rx="1.2"/>
<rect x="816.7" y="290.7" width="7.6" height="6.5" fill="#1c1c1c" rx="1.2"/>
<rect x="841.0" y="288.5" width="9.0" height="9.0" fill="#1c1c1c" rx="1.2"/>
<rect x="824.0" y="542.0" width="225.0" height="150.6" fill="#e0f1e9" />
<rect x="973.9" y="541.0" width="75.1" height="49.0" fill="#f1e5f0" />
<rect x="1007.0" y="590.0" width="42.0" height="27.3" fill="#d6e9f6" />
<rect x="1000.5" y="617.3" width="48.5" height="27.7" fill="#d6e9f6" />
<rect x="1006.5" y="645.0" width="12.5" height="8.0" fill="#d6e9f6" />
<rect x="973.6" y="645.0" width="75.4" height="47.6" fill="#e6ddf0" />
<rect x="1038.5" y="632.0" width="5" height="6" fill="#f9fafb" fill-opacity="0.8" stroke="#cbcfd3" stroke-width="0.45"/>
<rect x="993.1" y="580.6" width="10" height="12" fill="#f9fafb" fill-opacity="0.8" stroke="#cbcfd3" stroke-width="0.45"/>
<rect x="858.6" y="589.9" width="8" height="10" fill="#f9fafb" fill-opacity="0.8" stroke="#cbcfd3" stroke-width="0.45"/>
<rect x="876.8" y="628.8" width="5" height="8" fill="#f9fafb" fill-opacity="0.8" stroke="#cbcfd3" stroke-width="0.45"/>
<rect x="1001.8" y="580.6" width="5" height="6" fill="#f9fafb" fill-opacity="0.8" stroke="#cbcfd3" stroke-width="0.45"/>
<rect x="1016.5" y="664.8" width="14" height="10" fill="#f9fafb" fill-opacity="0.8" stroke="#cbcfd3" stroke-width="0.45"/>
<rect x="979.7" y="576.7" width="14" height="4" fill="#f9fafb" fill-opacity="0.8" stroke="#cbcfd3" stroke-width="0.45"/>
<rect x="958.8" y="601.4" width="8" height="10" fill="#f9fafb" fill-opacity="0.8" stroke="#cbcfd3" stroke-width="0.45"/>
<rect x="855.6" y="577.5" width="8" height="4" fill="#f9fafb" fill-opacity="0.8" stroke="#cbcfd3" stroke-width="0.45"/>
<rect x="832.5" y="546.4" width="14" height="4" fill="#f9fafb" fill-opacity="0.8" stroke="#cbcfd3" stroke-width="0.45"/>
<rect x="850.2" y="594.8" width="8" height="6" fill="#f9fafb" fill-opacity="0.8" stroke="#cbcfd3" stroke-width="0.45"/>
<rect x="951.1" y="625.3" width="6" height="8" fill="#f9fafb" fill-opacity="0.8" stroke="#cbcfd3" stroke-width="0.45"/>
<rect x="959.6" y="610.9" width="6" height="6" fill="#f9fafb" fill-opacity="0.8" stroke="#cbcfd3" stroke-width="0.45"/>
<rect x="1025.6" y="579.8" width="6" height="4" fill="#f9fafb" fill-opacity="0.8" stroke="#cbcfd3" stroke-width="0.45"/>
<rect x="848.2" y="631.9" width="6" height="8" fill="#f9fafb" fill-opacity="0.8" stroke="#cbcfd3" stroke-width="0.45"/>
<rect x="909.6" y="582.1" width="14" height="6" fill="#f9fafb" fill-opacity="0.8" stroke="#cbcfd3" stroke-width="0.45"/>
<rect x="964.7" y="623.9" width="5" height="4" fill="#f9fafb" fill-opacity="0.8" stroke="#cbcfd3" stroke-width="0.45"/>
<rect x="962.9" y="604.8" width="8" height="10" fill="#f9fafb" fill-opacity="0.8" stroke="#cbcfd3" stroke-width="0.45"/>
<rect x="929.0" y="567.6" width="12" height="12" fill="#f9fafb" fill-opacity="0.8" stroke="#cbcfd3" stroke-width="0.45"/>
<rect x="841.0" y="549.5" width="5" height="4" fill="#f9fafb" fill-opacity="0.8" stroke="#cbcfd3" stroke-width="0.45"/>
<rect x="861.6" y="671.5" width="6" height="5" fill="#f9fafb" fill-opacity="0.8" stroke="#cbcfd3" stroke-width="0.45"/>
<rect x="957.9" y="637.0" width="5" height="4" fill="#f9fafb" fill-opacity="0.8" stroke="#cbcfd3" stroke-width="0.45"/>
<rect x="915.2" y="617.3" width="6" height="5" fill="#f9fafb" fill-opacity="0.8" stroke="#cbcfd3" stroke-width="0.45"/>
<rect x="959.5" y="601.1" width="14" height="10" fill="#f9fafb" fill-opacity="0.8" stroke="#cbcfd3" stroke-width="0.45"/>
<rect x="932.3" y="554.8" width="12" height="5" fill="#f9fafb" fill-opacity="0.8" stroke="#cbcfd3" stroke-width="0.45"/>
<rect x="1029.8" y="646.4" width="14" height="4" fill="#f9fafb" fill-opacity="0.8" stroke="#cbcfd3" stroke-width="0.45"/>
<rect x="939.5" y="595.0" width="10" height="12" fill="#f9fafb" fill-opacity="0.8" stroke="#cbcfd3" stroke-width="0.45"/>
<rect x="1016.8" y="556.5" width="10" height="12" fill="#f9fafb" fill-opacity="0.8" stroke="#cbcfd3" stroke-width="0.45"/>
<rect x="863.6" y="680.1" width="14" height="8" fill="#f9fafb" fill-opacity="0.8" stroke="#cbcfd3" stroke-width="0.45"/>
<rect x="962.6" y="563.0" width="8" height="5" fill="#f9fafb" fill-opacity="0.8" stroke="#cbcfd3" stroke-width="0.45"/>
<rect x="1019.4" y="580.4" width="14" height="12" fill="#f9fafb" fill-opacity="0.8" stroke="#cbcfd3" stroke-width="0.45"/>
<rect x="962.8" y="638.8" width="5" height="6" fill="#f9fafb" fill-opacity="0.8" stroke="#cbcfd3" stroke-width="0.45"/>
<rect x="1025.3" y="585.2" width="14" height="10" fill="#f9fafb" fill-opacity="0.8" stroke="#cbcfd3" stroke-width="0.45"/>
<rect x="1013.7" y="548.1" width="6" height="4" fill="#f9fafb" fill-opacity="0.8" stroke="#cbcfd3" stroke-width="0.45"/>
<rect x="1003.9" y="573.9" width="8" height="5" fill="#f9fafb" fill-opacity="0.8" stroke="#cbcfd3" stroke-width="0.45"/>
<rect x="1021.1" y="571.1" width="6" height="12" fill="#f9fafb" fill-opacity="0.8" stroke="#cbcfd3" stroke-width="0.45"/>
<rect x="952.5" y="597.8" width="10" height="6" fill="#f9fafb" fill-opacity="0.8" stroke="#cbcfd3" stroke-width="0.45"/>
<rect x="1027.3" y="655.9" width="14" height="12" fill="#f9fafb" fill-opacity="0.8" stroke="#cbcfd3" stroke-width="0.45"/>
<rect x="924.8" y="617.4" width="12" height="8" fill="#f9fafb" fill-opacity="0.8" stroke="#cbcfd3" stroke-width="0.45"/>
<rect x="920.7" y="646.4" width="5" height="4" fill="#f9fafb" fill-opacity="0.8" stroke="#cbcfd3" stroke-width="0.45"/>
<rect x="989.8" y="599.5" width="12" height="6" fill="#f9fafb" fill-opacity="0.8" stroke="#cbcfd3" stroke-width="0.45"/>
<rect x="943.9" y="569.8" width="12" height="4" fill="#f9fafb" fill-opacity="0.8" stroke="#cbcfd3" stroke-width="0.45"/>
<rect x="851.7" y="632.2" width="5" height="4" fill="#f9fafb" fill-opacity="0.8" stroke="#cbcfd3" stroke-width="0.45"/>
<rect x="1034.2" y="641.7" width="6" height="6" fill="#f9fafb" fill-opacity="0.8" stroke="#cbcfd3" stroke-width="0.45"/>
<rect x="857.3" y="635.2" width="5" height="4" fill="#f9fafb" fill-opacity="0.8" stroke="#cbcfd3" stroke-width="0.45"/>
<rect x="842.4" y="552.1" width="5" height="12" fill="#f9fafb" fill-opacity="0.8" stroke="#cbcfd3" stroke-width="0.45"/>
<rect x="868.9" y="676.4" width="12" height="6" fill="#f9fafb" fill-opacity="0.8" stroke="#cbcfd3" stroke-width="0.45"/>
<rect x="841.5" y="659.3" width="12" height="12" fill="#f9fafb" fill-opacity="0.8" stroke="#cbcfd3" stroke-width="0.45"/>
<rect x="849.7" y="573.7" width="14" height="8" fill="#f9fafb" fill-opacity="0.8" stroke="#cbcfd3" stroke-width="0.45"/>
<rect x="835.3" y="663.5" width="5" height="4" fill="#f9fafb" fill-opacity="0.8" stroke="#cbcfd3" stroke-width="0.45"/>
<rect x="995.5" y="633.5" width="14" height="4" fill="#f9fafb" fill-opacity="0.8" stroke="#cbcfd3" stroke-width="0.45"/>
<rect x="848.9" y="559.2" width="8" height="8" fill="#f9fafb" fill-opacity="0.8" stroke="#cbcfd3" stroke-width="0.45"/>
<rect x="887.8" y="592.3" width="14" height="5" fill="#f9fafb" fill-opacity="0.8" stroke="#cbcfd3" stroke-width="0.45"/>
<rect x="901.3" y="674.9" width="8" height="4" fill="#f9fafb" fill-opacity="0.8" stroke="#cbcfd3" stroke-width="0.45"/>
<rect x="989.1" y="664.9" width="5" height="12" fill="#f9fafb" fill-opacity="0.8" stroke="#cbcfd3" stroke-width="0.45"/>
<rect x="925.6" y="584.1" width="12" height="10" fill="#f9fafb" fill-opacity="0.8" stroke="#cbcfd3" stroke-width="0.45"/>
<rect x="988.2" y="550.3" width="14" height="4" fill="#f9fafb" fill-opacity="0.8" stroke="#cbcfd3" stroke-width="0.45"/>
<rect x="899.1" y="643.7" width="12" height="4" fill="#f9fafb" fill-opacity="0.8" stroke="#cbcfd3" stroke-width="0.45"/>
<rect x="872.4" y="660.3" width="12" height="10" fill="#f9fafb" fill-opacity="0.8" stroke="#cbcfd3" stroke-width="0.45"/>
<rect x="1001.8" y="568.6" width="5" height="10" fill="#f9fafb" fill-opacity="0.8" stroke="#cbcfd3" stroke-width="0.45"/>
<rect x="870.8" y="647.1" width="5" height="10" fill="#f9fafb" fill-opacity="0.8" stroke="#cbcfd3" stroke-width="0.45"/>
<rect x="901.7" y="559.3" width="5" height="4" fill="#f9fafb" fill-opacity="0.8" stroke="#cbcfd3" stroke-width="0.45"/>
<rect x="1024.3" y="627.5" width="14" height="5" fill="#f9fafb" fill-opacity="0.8" stroke="#cbcfd3" stroke-width="0.45"/>
<rect x="946.5" y="567.7" width="12" height="6" fill="#f9fafb" fill-opacity="0.8" stroke="#cbcfd3" stroke-width="0.45"/>
<rect x="876.9" y="567.7" width="6" height="12" fill="#f9fafb" fill-opacity="0.8" stroke="#cbcfd3" stroke-width="0.45"/>
<rect x="927.5" y="683.4" width="14" height="4" fill="#f9fafb" fill-opacity="0.8" stroke="#cbcfd3" stroke-width="0.45"/>
<rect x="956.7" y="595.3" width="12" height="4" fill="#f9fafb" fill-opacity="0.8" stroke="#cbcfd3" stroke-width="0.45"/>
<rect x="1012.6" y="646.3" width="10" height="8" fill="#f9fafb" fill-opacity="0.8" stroke="#cbcfd3" stroke-width="0.45"/>
<rect x="833.2" y="572.9" width="10" height="12" fill="#f9fafb" fill-opacity="0.8" stroke="#cbcfd3" stroke-width="0.45"/>
<rect x="1016.4" y="613.5" width="8" height="8" fill="#f9fafb" fill-opacity="0.8" stroke="#cbcfd3" stroke-width="0.45"/>
<rect x="876.4" y="606.2" width="10" height="12" fill="#f9fafb" fill-opacity="0.8" stroke="#cbcfd3" stroke-width="0.45"/>
<rect x="982.7" y="645.8" width="12" height="10" fill="#f9fafb" fill-opacity="0.8" stroke="#cbcfd3" stroke-width="0.45"/>
<rect x="898.7" y="591.3" width="14" height="4" fill="#f9fafb" fill-opacity="0.8" stroke="#cbcfd3" stroke-width="0.45"/>
<rect x="967.7" y="645.9" width="6" height="8" fill="#f9fafb" fill-opacity="0.8" stroke="#cbcfd3" stroke-width="0.45"/>
<rect x="920.6" y="650.1" width="6" height="8" fill="#f9fafb" fill-opacity="0.8" stroke="#cbcfd3" stroke-width="0.45"/>
<rect x="853.8" y="609.6" width="12" height="5" fill="#f9fafb" fill-opacity="0.8" stroke="#cbcfd3" stroke-width="0.45"/>
<rect x="931.1" y="582.8" width="14" height="5" fill="#f9fafb" fill-opacity="0.8" stroke="#cbcfd3" stroke-width="0.45"/>
<rect x="859.4" y="566.7" width="14" height="10" fill="#f9fafb" fill-opacity="0.8" stroke="#cbcfd3" stroke-width="0.45"/>
<rect x="896.9" y="614.2" width="6" height="12" fill="#f9fafb" fill-opacity="0.8" stroke="#cbcfd3" stroke-width="0.45"/>
<rect x="897.2" y="572.0" width="6" height="5" fill="#f9fafb" fill-opacity="0.8" stroke="#cbcfd3" stroke-width="0.45"/>
<rect x="861.4" y="637.2" width="14" height="4" fill="#f9fafb" fill-opacity="0.8" stroke="#cbcfd3" stroke-width="0.45"/>
<rect x="859.9" y="566.0" width="6" height="8" fill="#f9fafb" fill-opacity="0.8" stroke="#cbcfd3" stroke-width="0.45"/>
<rect x="890.2" y="581.8" width="8" height="12" fill="#f9fafb" fill-opacity="0.8" stroke="#cbcfd3" stroke-width="0.45"/>
<rect x="1021.2" y="582.7" width="5" height="12" fill="#f9fafb" fill-opacity="0.8" stroke="#cbcfd3" stroke-width="0.45"/>
<rect x="835.0" y="599.7" width="10" height="8" fill="#f9fafb" fill-opacity="0.8" stroke="#cbcfd3" stroke-width="0.45"/>
<rect x="874.0" y="674.1" width="10" height="12" fill="#f9fafb" fill-opacity="0.8" stroke="#cbcfd3" stroke-width="0.45"/>
<rect x="832.6" y="580.6" width="8" height="8" fill="#f9fafb" fill-opacity="0.8" stroke="#cbcfd3" stroke-width="0.45"/>
<rect x="829.1" y="578.6" width="14" height="8" fill="#f9fafb" fill-opacity="0.8" stroke="#cbcfd3" stroke-width="0.45"/>
<rect x="946.8" y="643.8" width="10" height="12" fill="#f9fafb" fill-opacity="0.8" stroke="#cbcfd3" stroke-width="0.45"/>
<rect x="966.3" y="635.8" width="10" height="5" fill="#f9fafb" fill-opacity="0.8" stroke="#cbcfd3" stroke-width="0.45"/>
<rect x="946.5" y="575.9" width="14" height="12" fill="#f9fafb" fill-opacity="0.8" stroke="#cbcfd3" stroke-width="0.45"/>
<rect x="854.2" y="602.5" width="6" height="12" fill="#f9fafb" fill-opacity="0.8" stroke="#cbcfd3" stroke-width="0.45"/>
<rect x="974.4" y="662.9" width="8" height="12" fill="#f9fafb" fill-opacity="0.8" stroke="#cbcfd3" stroke-width="0.45"/>
<rect x="978.5" y="630.7" width="6" height="8" fill="#f9fafb" fill-opacity="0.8" stroke="#cbcfd3" stroke-width="0.45"/>
<rect x="928.9" y="548.6" width="8" height="8" fill="#f9fafb" fill-opacity="0.8" stroke="#cbcfd3" stroke-width="0.45"/>
<rect x="967.8" y="669.3" width="10" height="10" fill="#f9fafb" fill-opacity="0.8" stroke="#cbcfd3" stroke-width="0.45"/>
<rect x="897.2" y="547.4" width="6" height="12" fill="#f9fafb" fill-opacity="0.8" stroke="#cbcfd3" stroke-width="0.45"/>
<rect x="835.9" y="621.3" width="10" height="4" fill="#f9fafb" fill-opacity="0.8" stroke="#cbcfd3" stroke-width="0.45"/>
<rect x="993.0" y="668.8" width="6" height="12" fill="#f9fafb" fill-opacity="0.8" stroke="#cbcfd3" stroke-width="0.45"/>
<rect x="848.7" y="624.5" width="12" height="6" fill="#f9fafb" fill-opacity="0.8" stroke="#cbcfd3" stroke-width="0.45"/>
<rect x="975.0" y="616.5" width="12" height="5" fill="#f9fafb" fill-opacity="0.8" stroke="#cbcfd3" stroke-width="0.45"/>
<rect x="933.9" y="602.1" width="14" height="6" fill="#f9fafb" fill-opacity="0.8" stroke="#cbcfd3" stroke-width="0.45"/>
<rect x="1033.0" y="571.3" width="10" height="5" fill="#f9fafb" fill-opacity="0.8" stroke="#cbcfd3" stroke-width="0.45"/>
<rect x="977.5" y="631.1" width="12" height="4" fill="#f9fafb" fill-opacity="0.8" stroke="#cbcfd3" stroke-width="0.45"/>
<rect x="879.2" y="598.9" width="14" height="4" fill="#f9fafb" fill-opacity="0.8" stroke="#cbcfd3" stroke-width="0.45"/>
<rect x="841.9" y="557.5" width="5" height="1.1" fill="#a3a6aa"/>
<rect x="961.0" y="641.2" width="6" height="1.1" fill="#a3a6aa"/>
<rect x="884.7" y="578.3" width="6" height="1.1" fill="#a3a6aa"/>
<rect x="913.1" y="680.1" width="4" height="1.1" fill="#a3a6aa"/>
<rect x="1037.8" y="681.1" width="5" height="1.1" fill="#a3a6aa"/>
<rect x="873.5" y="565.1" width="4" height="1.1" fill="#a3a6aa"/>
<rect x="999.0" y="635.5" width="5" height="1.1" fill="#a3a6aa"/>
<rect x="963.9" y="647.6" width="4" height="1.1" fill="#a3a6aa"/>
<rect x="903.2" y="636.2" width="5" height="1.1" fill="#a3a6aa"/>
<rect x="927.3" y="588.1" width="6" height="1.1" fill="#a3a6aa"/>
<rect x="965.4" y="655.9" width="5" height="1.1" fill="#a3a6aa"/>
<rect x="903.5" y="665.8" width="5" height="1.1" fill="#a3a6aa"/>
<rect x="976.9" y="643.0" width="5" height="1.1" fill="#a3a6aa"/>
<rect x="971.6" y="614.2" width="6" height="1.1" fill="#a3a6aa"/>
<rect x="996.8" y="597.0" width="6" height="1.1" fill="#a3a6aa"/>
<rect x="892.4" y="613.9" width="5" height="1.1" fill="#a3a6aa"/>
<rect x="959.9" y="558.9" width="5" height="1.1" fill="#a3a6aa"/>
<rect x="861.1" y="589.3" width="5" height="1.1" fill="#a3a6aa"/>
<rect x="841.0" y="662.6" width="5" height="1.1" fill="#a3a6aa"/>
<rect x="993.6" y="566.6" width="5" height="1.1" fill="#a3a6aa"/>
<rect x="962.0" y="549.1" width="4" height="1.1" fill="#a3a6aa"/>
<rect x="873.0" y="557.1" width="5" height="1.1" fill="#a3a6aa"/>
<rect x="881.5" y="561.2" width="4" height="1.1" fill="#a3a6aa"/>
<rect x="1008.4" y="572.9" width="5" height="1.1" fill="#a3a6aa"/>
<rect x="901.8" y="568.3" width="5" height="1.1" fill="#a3a6aa"/>
<rect x="995.3" y="570.4" width="6" height="1.1" fill="#a3a6aa"/>
<rect x="956.8" y="656.1" width="6" height="1.1" fill="#a3a6aa"/>
<rect x="1018.3" y="623.6" width="6" height="1.1" fill="#a3a6aa"/>
<rect x="1005.1" y="574.6" width="6" height="1.1" fill="#a3a6aa"/>
<rect x="873.8" y="558.0" width="5" height="1.1" fill="#a3a6aa"/>
<rect x="970.0" y="563.3" width="4" height="1.1" fill="#a3a6aa"/>
<rect x="884.5" y="579.7" width="4" height="1.1" fill="#a3a6aa"/>
<rect x="928.4" y="624.8" width="5" height="1.1" fill="#a3a6aa"/>
<rect x="927.1" y="567.2" width="5" height="1.1" fill="#a3a6aa"/>
<rect x="880.8" y="570.0" width="6" height="1.1" fill="#a3a6aa"/>
<rect x="1010.2" y="547.9" width="5" height="1.1" fill="#a3a6aa"/>
<rect x="927.3" y="625.5" width="6" height="1.1" fill="#a3a6aa"/>
<rect x="891.3" y="612.0" width="5" height="1.1" fill="#a3a6aa"/>
<rect x="917.0" y="681.1" width="4" height="1.1" fill="#a3a6aa"/>
<rect x="866.9" y="597.3" width="6" height="1.1" fill="#a3a6aa"/>
<rect x="835.0" y="632.1" width="6" height="1.1" fill="#a3a6aa"/>
<rect x="983.7" y="686.5" width="4" height="1.1" fill="#a3a6aa"/>
<rect x="936.2" y="614.7" width="4" height="1.1" fill="#a3a6aa"/>
<rect x="836.1" y="647.3" width="6" height="1.1" fill="#a3a6aa"/>
<rect x="855.6" y="560.2" width="6" height="1.1" fill="#a3a6aa"/>
<rect x="905.9" y="613.2" width="6" height="1.1" fill="#a3a6aa"/>
<rect x="945.4" y="674.4" width="5" height="1.1" fill="#a3a6aa"/>
<rect x="920.4" y="606.0" width="6" height="1.1" fill="#a3a6aa"/>
<rect x="840.1" y="587.4" width="5" height="1.1" fill="#a3a6aa"/>
<rect x="1002.8" y="603.4" width="6" height="1.1" fill="#a3a6aa"/>
<rect x="1035.7" y="668.9" width="5" height="1.1" fill="#a3a6aa"/>
<rect x="1033.7" y="638.4" width="4" height="1.1" fill="#a3a6aa"/>
<rect x="898.5" y="591.3" width="5" height="1.1" fill="#a3a6aa"/>
<rect x="855.8" y="682.8" width="4" height="1.1" fill="#a3a6aa"/>
<rect x="993.7" y="552.6" width="6" height="1.1" fill="#a3a6aa"/>
<rect x="945.4" y="603.7" width="6" height="1.1" fill="#a3a6aa"/>
<rect x="839.4" y="588.9" width="4" height="1.1" fill="#a3a6aa"/>
<rect x="838.7" y="661.7" width="5" height="1.1" fill="#a3a6aa"/>
<rect x="956.8" y="638.9" width="6" height="1.1" fill="#a3a6aa"/>
<rect x="1020.1" y="632.4" width="6" height="1.1" fill="#a3a6aa"/>
<rect x="859.9" y="641.0" width="6" height="1.1" fill="#a3a6aa"/>
<rect x="954.2" y="642.1" width="4" height="1.1" fill="#a3a6aa"/>
<rect x="837.3" y="635.4" width="6" height="1.1" fill="#a3a6aa"/>
<circle cx="851.6" cy="573.1" r="0.9" fill="#c8385a"/>
<rect x="874.0" y="589.0" width="133.0" height="56.1" fill="#ffffff" />
<rect x="873.0" y="602.7" width="128.0" height="29.6" fill="#ffffff" />
<line x1="889.0" y1="609.5" x2="889.0" y2="625.0" stroke="#cfcfcf" stroke-width="0.41"/>
<line x1="892.1" y1="609.5" x2="892.1" y2="625.0" stroke="#cfcfcf" stroke-width="0.41"/>
<line x1="895.2" y1="609.5" x2="895.2" y2="625.0" stroke="#cfcfcf" stroke-width="0.41"/>
<line x1="898.3" y1="609.5" x2="898.3" y2="625.0" stroke="#cfcfcf" stroke-width="0.41"/>
<line x1="901.4" y1="609.5" x2="901.4" y2="625.0" stroke="#cfcfcf" stroke-width="0.41"/>
<line x1="904.6" y1="609.5" x2="904.6" y2="625.0" stroke="#cfcfcf" stroke-width="0.41"/>
<line x1="907.7" y1="609.5" x2="907.7" y2="625.0" stroke="#cfcfcf" stroke-width="0.41"/>
<line x1="910.8" y1="609.5" x2="910.8" y2="625.0" stroke="#cfcfcf" stroke-width="0.41"/>
<line x1="913.9" y1="609.5" x2="913.9" y2="625.0" stroke="#cfcfcf" stroke-width="0.41"/>
<line x1="917.0" y1="609.5" x2="917.0" y2="625.0" stroke="#cfcfcf" stroke-width="0.41"/>
<line x1="889.0" y1="609.5" x2="917.0" y2="609.5" stroke="#cfcfcf" stroke-width="0.41"/>
<line x1="889.0" y1="614.7" x2="917.0" y2="614.7" stroke="#cfcfcf" stroke-width="0.41"/>
<line x1="889.0" y1="619.8" x2="917.0" y2="619.8" stroke="#cfcfcf" stroke-width="0.41"/>
<line x1="889.0" y1="625.0" x2="917.0" y2="625.0" stroke="#cfcfcf" stroke-width="0.41"/>
<line x1="873.0" y1="602.7" x2="927.5" y2="602.7" stroke="#2e2e2e" stroke-width="1.60"/>
<line x1="873.0" y1="607.4" x2="923.9" y2="607.4" stroke="#2e2e2e" stroke-width="1.60"/>
<line x1="873.5" y1="627.3" x2="924.6" y2="627.3" stroke="#2e2e2e" stroke-width="1.60"/>
<line x1="873.5" y1="632.3" x2="927.3" y2="632.3" stroke="#2e2e2e" stroke-width="1.60"/>
<line x1="873.0" y1="602.7" x2="873.0" y2="632.3" stroke="#2e2e2e" stroke-width="1.60"/>
<line x1="879.0" y1="607.4" x2="879.0" y2="627.3" stroke="#2e2e2e" stroke-width="1.00"/>
<line x1="924.4" y1="602.7" x2="924.4" y2="614.7" stroke="#2e2e2e" stroke-width="1.60"/>
<line x1="924.6" y1="623.0" x2="924.6" y2="632.3" stroke="#2e2e2e" stroke-width="1.60"/>
<line x1="938.8" y1="602.6" x2="959.7" y2="602.6" stroke="#2e2e2e" stroke-width="1.60"/>
<line x1="938.8" y1="602.6" x2="938.8" y2="631.2" stroke="#2e2e2e" stroke-width="1.60"/>
<line x1="959.7" y1="602.6" x2="959.7" y2="607.4" stroke="#2e2e2e" stroke-width="1.60"/>
<line x1="959.7" y1="626.3" x2="959.7" y2="631.2" stroke="#2e2e2e" stroke-width="1.60"/>
<line x1="938.8" y1="617.3" x2="959.6" y2="617.3" stroke="#2e2e2e" stroke-width="1.60"/>
<line x1="938.8" y1="631.2" x2="959.6" y2="631.2" stroke="#2e2e2e" stroke-width="1.60"/>
<line x1="970.2" y1="603.2" x2="1000.0" y2="603.2" stroke="#2e2e2e" stroke-width="1.60"/>
<rect x="970.2" y="603.2" width="8.9" height="3.1" fill="none" stroke="#2e2e2e" stroke-width="1.00"/>
<line x1="979.0" y1="617.3" x2="1000.0" y2="617.3" stroke="#2e2e2e" stroke-width="1.60"/>
<line x1="979.1" y1="603.2" x2="979.1" y2="607.4" stroke="#2e2e2e" stroke-width="1.60"/>
<line x1="979.1" y1="626.3" x2="979.1" y2="631.2" stroke="#2e2e2e" stroke-width="1.60"/>
<line x1="970.7" y1="631.2" x2="1000.7" y2="631.2" stroke="#2e2e2e" stroke-width="1.60"/>
<rect x="970.7" y="628.4" width="8.3" height="2.8" fill="none" stroke="#2e2e2e" stroke-width="1.00"/>
<line x1="1000.6" y1="600.0" x2="1000.6" y2="631.8" stroke="#2e2e2e" stroke-width="2.00"/>
<line x1="939.5" y1="603.5" x2="959.0" y2="617.0" stroke="#d8d8d8" stroke-width="0.36"/>
<line x1="939.5" y1="617.0" x2="959.0" y2="603.5" stroke="#d8d8d8" stroke-width="0.36"/>
<line x1="939.5" y1="617.8" x2="959.0" y2="630.5" stroke="#d8d8d8" stroke-width="0.36"/>
<line x1="939.5" y1="630.5" x2="959.0" y2="617.8" stroke="#d8d8d8" stroke-width="0.36"/>
<line x1="979.8" y1="604.0" x2="999.5" y2="617.0" stroke="#d8d8d8" stroke-width="0.36"/>
<line x1="979.8" y1="617.0" x2="999.5" y2="604.0" stroke="#d8d8d8" stroke-width="0.36"/>
<line x1="979.8" y1="617.8" x2="999.5" y2="630.5" stroke="#d8d8d8" stroke-width="0.36"/>
<line x1="979.8" y1="630.5" x2="999.5" y2="617.8" stroke="#d8d8d8" stroke-width="0.36"/>
<line x1="850.0" y1="540.8" x2="850.0" y2="569.6" stroke="#2e2e2e" stroke-width="2.00"/>
<line x1="850.0" y1="569.6" x2="874.7" y2="569.6" stroke="#2e2e2e" stroke-width="2.00"/>
<line x1="874.7" y1="569.6" x2="874.7" y2="592.2" stroke="#2e2e2e" stroke-width="2.00"/>
<line x1="874.7" y1="569.6" x2="888.3" y2="569.6" stroke="#2e2e2e" stroke-width="1.60"/>
<line x1="888.3" y1="569.6" x2="888.3" y2="589.0" stroke="#2e2e2e" stroke-width="1.60"/>
<line x1="874.7" y1="589.0" x2="888.3" y2="589.0" stroke="#2e2e2e" stroke-width="2.00"/>
<line x1="899.3" y1="540.8" x2="899.3" y2="553.4" stroke="#2e2e2e" stroke-width="2.00"/>
<line x1="900.3" y1="553.0" x2="900.3" y2="576.0" stroke="#999" stroke-width="0.72"/>
<line x1="900.3" y1="575.5" x2="906.0" y2="575.5" stroke="#2e2e2e" stroke-width="1.00"/>
<line x1="906.0" y1="575.5" x2="906.0" y2="589.0" stroke="#2e2e2e" stroke-width="1.60"/>
<line x1="896.7" y1="589.0" x2="932.8" y2="589.0" stroke="#2e2e2e" stroke-width="2.00"/>
<line x1="918.7" y1="567.5" x2="918.7" y2="585.9" stroke="#2e2e2e" stroke-width="2.00"/>
<line x1="918.7" y1="567.5" x2="935.0" y2="567.5" stroke="#2e2e2e" stroke-width="2.00"/>
<line x1="924.4" y1="540.8" x2="924.4" y2="567.5" stroke="#2e2e2e" stroke-width="2.00"/>
<rect x="918.7" y="585.9" width="14.1" height="4.1" fill="none" stroke="#2e2e2e" stroke-width="1.08"/>
<line x1="932.8" y1="568.6" x2="932.8" y2="590.0" stroke="#2e2e2e" stroke-width="1.00"/>
<line x1="822.8" y1="580.1" x2="850.0" y2="580.1" stroke="#2e2e2e" stroke-width="2.00"/>
<line x1="858.4" y1="580.1" x2="858.4" y2="589.6" stroke="#2e2e2e" stroke-width="1.00"/>
<line x1="858.4" y1="584.3" x2="871.5" y2="584.3" stroke="#2e2e2e" stroke-width="1.00"/>
<line x1="853.7" y1="601.6" x2="873.6" y2="601.6" stroke="#2e2e2e" stroke-width="1.60"/>
<line x1="853.7" y1="601.6" x2="853.7" y2="617.9" stroke="#2e2e2e" stroke-width="1.00"/>
<line x1="823.0" y1="617.9" x2="873.6" y2="617.9" stroke="#2e2e2e" stroke-width="2.00"/>
<line x1="873.6" y1="589.0" x2="873.6" y2="602.0" stroke="#2e2e2e" stroke-width="1.60"/>
<line x1="949.3" y1="540.8" x2="949.3" y2="568.6" stroke="#2e2e2e" stroke-width="2.00"/>
<line x1="932.0" y1="568.6" x2="949.3" y2="568.6" stroke="#2e2e2e" stroke-width="1.60"/>
<line x1="946.7" y1="578.0" x2="946.7" y2="589.5" stroke="#2e2e2e" stroke-width="1.00"/>
<rect x="947.7" y="585.3" width="25.7" height="4.7" fill="none" stroke="#2e2e2e" stroke-width="2.00"/>
<line x1="932.0" y1="590.0" x2="947.7" y2="590.0" stroke="#2e2e2e" stroke-width="2.00"/>
<line x1="973.9" y1="540.8" x2="973.9" y2="590.0" stroke="#2e2e2e" stroke-width="2.00"/>
<line x1="975.0" y1="562.3" x2="988.6" y2="562.3" stroke="#2e2e2e" stroke-width="1.60"/>
<line x1="988.6" y1="562.3" x2="988.6" y2="589.5" stroke="#2e2e2e" stroke-width="1.60"/>
<line x1="975.0" y1="579.6" x2="988.6" y2="579.6" stroke="#2e2e2e" stroke-width="1.00"/>
<line x1="973.9" y1="590.0" x2="1005.0" y2="590.0" stroke="#2e2e2e" stroke-width="2.00"/>
<line x1="999.0" y1="568.0" x2="1048.3" y2="568.0" stroke="#2e2e2e" stroke-width="2.00"/>
<line x1="1024.2" y1="544.5" x2="1024.2" y2="559.0" stroke="#2e2e2e" stroke-width="1.00"/>
<line x1="1006.9" y1="569.6" x2="1006.9" y2="589.5" stroke="#2e2e2e" stroke-width="1.00"/>
<line x1="1007.4" y1="582.2" x2="1007.4" y2="601.0" stroke="#2e2e2e" stroke-width="2.00"/>
<line x1="1007.4" y1="582.2" x2="1019.0" y2="582.2" stroke="#2e2e2e" stroke-width="2.00"/>
<line x1="1019.0" y1="578.0" x2="1019.0" y2="591.0" stroke="#2e2e2e" stroke-width="2.00"/>
<line x1="1019.0" y1="590.6" x2="1049.0" y2="590.6" stroke="#2e2e2e" stroke-width="2.00"/>
<line x1="1000.1" y1="603.2" x2="1007.4" y2="603.2" stroke="#2e2e2e" stroke-width="2.00"/>
<line x1="1007.4" y1="599.0" x2="1007.4" y2="603.2" stroke="#2e2e2e" stroke-width="1.00"/>
<line x1="1019.5" y1="603.2" x2="1019.5" y2="617.3" stroke="#2e2e2e" stroke-width="1.00"/>
<line x1="1013.0" y1="603.7" x2="1019.5" y2="603.7" stroke="#2e2e2e" stroke-width="1.00"/>
<line x1="853.6" y1="609.0" x2="853.6" y2="632.9" stroke="#2e2e2e" stroke-width="1.00"/>
<line x1="853.6" y1="632.9" x2="872.5" y2="632.9" stroke="#2e2e2e" stroke-width="1.00"/>
<line x1="873.6" y1="609.0" x2="873.6" y2="635.6" stroke="#2e2e2e" stroke-width="2.00"/>
<line x1="823.0" y1="655.1" x2="850.3" y2="655.1" stroke="#2e2e2e" stroke-width="2.00"/>
<line x1="858.6" y1="644.5" x2="858.6" y2="655.6" stroke="#2e2e2e" stroke-width="1.00"/>
<line x1="858.6" y1="649.0" x2="873.6" y2="649.0" stroke="#2e2e2e" stroke-width="1.00"/>
<line x1="874.2" y1="643.4" x2="874.2" y2="666.7" stroke="#2e2e2e" stroke-width="2.00"/>
<line x1="849.7" y1="667.3" x2="874.2" y2="667.3" stroke="#2e2e2e" stroke-width="2.00"/>
<line x1="849.7" y1="667.3" x2="849.7" y2="692.3" stroke="#2e2e2e" stroke-width="2.00"/>
<rect x="874.7" y="645.1" width="13.3" height="4.4" fill="none" stroke="#2e2e2e" stroke-width="2.00"/>
<line x1="888.0" y1="645.1" x2="888.0" y2="667.3" stroke="#2e2e2e" stroke-width="1.60"/>
<line x1="874.2" y1="667.3" x2="888.0" y2="667.3" stroke="#2e2e2e" stroke-width="1.60"/>
<line x1="896.4" y1="645.1" x2="934.1" y2="645.1" stroke="#2e2e2e" stroke-width="2.00"/>
<line x1="901.4" y1="645.1" x2="901.4" y2="649.5" stroke="#2e2e2e" stroke-width="1.00"/>
<line x1="901.4" y1="649.5" x2="918.6" y2="649.5" stroke="#2e2e2e" stroke-width="2.00"/>
<line x1="899.1" y1="660.6" x2="899.1" y2="666.7" stroke="#2e2e2e" stroke-width="1.00"/>
<line x1="899.7" y1="674.5" x2="899.7" y2="692.3" stroke="#2e2e2e" stroke-width="1.60"/>
<line x1="918.6" y1="645.1" x2="918.6" y2="667.3" stroke="#2e2e2e" stroke-width="2.00"/>
<line x1="918.6" y1="666.7" x2="948.5" y2="666.7" stroke="#2e2e2e" stroke-width="2.00"/>
<line x1="924.1" y1="666.7" x2="924.1" y2="692.3" stroke="#2e2e2e" stroke-width="2.00"/>
<line x1="933.0" y1="645.6" x2="933.0" y2="666.7" stroke="#2e2e2e" stroke-width="1.00"/>
<line x1="897.5" y1="645.1" x2="897.5" y2="660.0" stroke="#2e2e2e" stroke-width="1.00"/>
<line x1="896.0" y1="660.0" x2="900.0" y2="660.0" stroke="#2e2e2e" stroke-width="1.00"/>
<line x1="1000.3" y1="609.0" x2="1000.3" y2="631.2" stroke="#2e2e2e" stroke-width="2.00"/>
<line x1="1000.8" y1="617.3" x2="1049.7" y2="617.3" stroke="#2e2e2e" stroke-width="1.60"/>
<line x1="1019.1" y1="609.0" x2="1019.1" y2="631.2" stroke="#2e2e2e" stroke-width="1.00"/>
<line x1="970.3" y1="631.2" x2="1006.4" y2="631.2" stroke="#2e2e2e" stroke-width="2.00"/>
<line x1="1006.4" y1="631.2" x2="1006.4" y2="636.2" stroke="#2e2e2e" stroke-width="2.00"/>
<line x1="932.0" y1="645.1" x2="947.0" y2="645.1" stroke="#2e2e2e" stroke-width="2.00"/>
<line x1="947.0" y1="645.1" x2="947.0" y2="657.3" stroke="#2e2e2e" stroke-width="1.00"/>
<rect x="947.5" y="645.1" width="26.1" height="2.8" fill="none" stroke="#2e2e2e" stroke-width="2.00"/>
<line x1="973.6" y1="645.1" x2="973.6" y2="692.3" stroke="#2e2e2e" stroke-width="2.00"/>
<line x1="949.2" y1="666.7" x2="949.2" y2="692.3" stroke="#2e2e2e" stroke-width="2.00"/>
<line x1="932.0" y1="666.7" x2="948.7" y2="666.7" stroke="#2e2e2e" stroke-width="1.00"/>
<line x1="974.7" y1="645.1" x2="989.7" y2="645.1" stroke="#2e2e2e" stroke-width="2.00"/>
<line x1="988.6" y1="645.6" x2="988.6" y2="661.2" stroke="#2e2e2e" stroke-width="1.00"/>
<line x1="974.7" y1="655.1" x2="988.6" y2="655.1" stroke="#2e2e2e" stroke-width="1.00"/>
<line x1="974.7" y1="672.8" x2="988.6" y2="672.8" stroke="#2e2e2e" stroke-width="1.00"/>
<line x1="988.6" y1="666.7" x2="988.6" y2="672.8" stroke="#2e2e2e" stroke-width="1.00"/>
<line x1="998.6" y1="645.1" x2="1006.4" y2="645.1" stroke="#2e2e2e" stroke-width="1.60"/>
<line x1="1006.4" y1="645.1" x2="1006.4" y2="652.9" stroke="#2e2e2e" stroke-width="2.00"/>
<line x1="1006.4" y1="652.9" x2="1019.1" y2="652.9" stroke="#2e2e2e" stroke-width="2.00"/>
<line x1="1019.1" y1="644.5" x2="1019.1" y2="657.8" stroke="#2e2e2e" stroke-width="2.00"/>
<line x1="1019.1" y1="644.5" x2="1049.7" y2="644.5" stroke="#2e2e2e" stroke-width="2.00"/>
<line x1="999.2" y1="667.3" x2="1049.7" y2="667.3" stroke="#2e2e2e" stroke-width="2.00"/>
<line x1="1023.6" y1="667.3" x2="1023.6" y2="684.5" stroke="#2e2e2e" stroke-width="1.60"/>
<rect x="824.3" y="542.3" width="224.4" height="150.00000000000003" fill="none" stroke="#dde0e3" stroke-width="2.8"/>
<rect x="823.0" y="541.0" width="227" height="152.60000000000002" fill="none" stroke="#a6abb0" stroke-width="0.6"/>
<rect x="825.7" y="543.7" width="221.6" height="147.20000000000002" fill="none" stroke="#b3b7bc" stroke-width="0.5"/>
<rect x="819.5" y="537.5" width="9.0" height="9.0" fill="#1c1c1c" rx="1.2"/>
<rect x="845.2" y="537.8" width="7.6" height="6.5" fill="#1c1c1c" rx="1.2"/>
<rect x="870.2" y="537.8" width="7.6" height="6.5" fill="#1c1c1c" rx="1.2"/>
<rect x="895.2" y="537.8" width="7.6" height="6.5" fill="#1c1c1c" rx="1.2"/>
<rect x="920.2" y="537.8" width="7.6" height="6.5" fill="#1c1c1c" rx="1.2"/>
<rect x="945.2" y="537.8" width="7.6" height="6.5" fill="#1c1c1c" rx="1.2"/>
<rect x="970.2" y="537.8" width="7.6" height="6.5" fill="#1c1c1c" rx="1.2"/>
<rect x="995.2" y="537.8" width="7.6" height="6.5" fill="#1c1c1c" rx="1.2"/>
<rect x="1020.2" y="537.8" width="7.6" height="6.5" fill="#1c1c1c" rx="1.2"/>
<rect x="1044.5" y="537.5" width="9.0" height="9.0" fill="#1c1c1c" rx="1.2"/>
<rect x="819.8" y="563.3" width="6.5" height="7.6" fill="#1c1c1c" rx="1.2"/>
<rect x="1046.7" y="563.3" width="6.5" height="7.6" fill="#1c1c1c" rx="1.2"/>
<rect x="819.8" y="588.4" width="6.5" height="7.6" fill="#1c1c1c" rx="1.2"/>
<rect x="1046.7" y="588.4" width="6.5" height="7.6" fill="#1c1c1c" rx="1.2"/>
<rect x="819.8" y="613.5" width="6.5" height="7.6" fill="#1c1c1c" rx="1.2"/>
<rect x="1046.7" y="613.5" width="6.5" height="7.6" fill="#1c1c1c" rx="1.2"/>
<rect x="819.8" y="638.6" width="6.5" height="7.6" fill="#1c1c1c" rx="1.2"/>
<rect x="1046.7" y="638.6" width="6.5" height="7.6" fill="#1c1c1c" rx="1.2"/>
<rect x="819.8" y="663.7" width="6.5" height="7.6" fill="#1c1c1c" rx="1.2"/>
<rect x="1046.7" y="663.7" width="6.5" height="7.6" fill="#1c1c1c" rx="1.2"/>
<rect x="819.5" y="688.1" width="9.0" height="9.0" fill="#1c1c1c" rx="1.2"/>
<rect x="845.2" y="690.3" width="7.6" height="6.5" fill="#1c1c1c" rx="1.2"/>
<rect x="870.2" y="690.3" width="7.6" height="6.5" fill="#1c1c1c" rx="1.2"/>
<rect x="895.2" y="690.3" width="7.6" height="6.5" fill="#1c1c1c" rx="1.2"/>
<rect x="920.2" y="690.3" width="7.6" height="6.5" fill="#1c1c1c" rx="1.2"/>
<rect x="945.2" y="690.3" width="7.6" height="6.5" fill="#1c1c1c" rx="1.2"/>
<rect x="970.2" y="690.3" width="7.6" height="6.5" fill="#1c1c1c" rx="1.2"/>
<rect x="995.2" y="690.3" width="7.6" height="6.5" fill="#1c1c1c" rx="1.2"/>
<rect x="1020.2" y="690.3" width="7.6" height="6.5" fill="#1c1c1c" rx="1.2"/>
<rect x="1044.5" y="688.1" width="9.0" height="9.0" fill="#1c1c1c" rx="1.2"/>
<rect x="304.0" y="466.7" width="151.0" height="226.3" fill="#e0f1e9" />
<path d="M304,493.7 L333.3,493.7 L333.3,503 L348.7,503 L348.7,567.8 L304,567.8 Z" fill="#e6ddf0"/>
<rect x="304.0" y="616.7" width="48.0" height="76.3" fill="#e6ddf0" />
<rect x="352.0" y="649.0" width="29.0" height="44.0" fill="#d6e9f6" />
<rect x="381.0" y="643.7" width="47.7" height="49.3" fill="#d2eae7" />
<rect x="414.9" y="662.9" width="5" height="8" fill="#f9fafb" fill-opacity="0.8" stroke="#cbcfd3" stroke-width="0.45"/>
<rect x="355.6" y="647.0" width="14" height="4" fill="#f9fafb" fill-opacity="0.8" stroke="#cbcfd3" stroke-width="0.45"/>
<rect x="403.9" y="650.3" width="8" height="10" fill="#f9fafb" fill-opacity="0.8" stroke="#cbcfd3" stroke-width="0.45"/>
<rect x="312.7" y="475.0" width="6" height="8" fill="#f9fafb" fill-opacity="0.8" stroke="#cbcfd3" stroke-width="0.45"/>
<rect x="383.8" y="659.2" width="12" height="12" fill="#f9fafb" fill-opacity="0.8" stroke="#cbcfd3" stroke-width="0.45"/>
<rect x="377.4" y="642.5" width="10" height="10" fill="#f9fafb" fill-opacity="0.8" stroke="#cbcfd3" stroke-width="0.45"/>
<rect x="400.5" y="555.0" width="10" height="10" fill="#f9fafb" fill-opacity="0.8" stroke="#cbcfd3" stroke-width="0.45"/>
<rect x="401.8" y="598.0" width="5" height="4" fill="#f9fafb" fill-opacity="0.8" stroke="#cbcfd3" stroke-width="0.45"/>
<rect x="369.3" y="558.7" width="14" height="5" fill="#f9fafb" fill-opacity="0.8" stroke="#cbcfd3" stroke-width="0.45"/>
<rect x="396.9" y="516.2" width="5" height="4" fill="#f9fafb" fill-opacity="0.8" stroke="#cbcfd3" stroke-width="0.45"/>
<rect x="310.1" y="471.7" width="6" height="12" fill="#f9fafb" fill-opacity="0.8" stroke="#cbcfd3" stroke-width="0.45"/>
<rect x="323.7" y="670.1" width="14" height="12" fill="#f9fafb" fill-opacity="0.8" stroke="#cbcfd3" stroke-width="0.45"/>
<rect x="428.0" y="498.2" width="5" height="5" fill="#f9fafb" fill-opacity="0.8" stroke="#cbcfd3" stroke-width="0.45"/>
<rect x="407.3" y="522.1" width="5" height="6" fill="#f9fafb" fill-opacity="0.8" stroke="#cbcfd3" stroke-width="0.45"/>
<rect x="332.2" y="481.0" width="14" height="12" fill="#f9fafb" fill-opacity="0.8" stroke="#cbcfd3" stroke-width="0.45"/>
<rect x="397.6" y="500.6" width="14" height="12" fill="#f9fafb" fill-opacity="0.8" stroke="#cbcfd3" stroke-width="0.45"/>
<rect x="394.7" y="621.3" width="5" height="6" fill="#f9fafb" fill-opacity="0.8" stroke="#cbcfd3" stroke-width="0.45"/>
<rect x="432.0" y="523.1" width="10" height="12" fill="#f9fafb" fill-opacity="0.8" stroke="#cbcfd3" stroke-width="0.45"/>
<rect x="312.4" y="483.2" width="5" height="12" fill="#f9fafb" fill-opacity="0.8" stroke="#cbcfd3" stroke-width="0.45"/>
<rect x="413.4" y="487.1" width="14" height="12" fill="#f9fafb" fill-opacity="0.8" stroke="#cbcfd3" stroke-width="0.45"/>
<rect x="406.5" y="505.9" width="8" height="6" fill="#f9fafb" fill-opacity="0.8" stroke="#cbcfd3" stroke-width="0.45"/>
<rect x="316.0" y="547.3" width="10" height="10" fill="#f9fafb" fill-opacity="0.8" stroke="#cbcfd3" stroke-width="0.45"/>
<rect x="365.5" y="610.3" width="12" height="12" fill="#f9fafb" fill-opacity="0.8" stroke="#cbcfd3" stroke-width="0.45"/>
<rect x="357.8" y="608.9" width="6" height="4" fill="#f9fafb" fill-opacity="0.8" stroke="#cbcfd3" stroke-width="0.45"/>
<rect x="369.5" y="634.3" width="14" height="8" fill="#f9fafb" fill-opacity="0.8" stroke="#cbcfd3" stroke-width="0.45"/>
<rect x="412.4" y="591.0" width="10" height="6" fill="#f9fafb" fill-opacity="0.8" stroke="#cbcfd3" stroke-width="0.45"/>
<rect x="316.2" y="677.5" width="8" height="6" fill="#f9fafb" fill-opacity="0.8" stroke="#cbcfd3" stroke-width="0.45"/>
<rect x="350.8" y="596.9" width="14" height="10" fill="#f9fafb" fill-opacity="0.8" stroke="#cbcfd3" stroke-width="0.45"/>
<rect x="391.0" y="536.5" width="5" height="5" fill="#f9fafb" fill-opacity="0.8" stroke="#cbcfd3" stroke-width="0.45"/>
<rect x="358.1" y="616.8" width="10" height="5" fill="#f9fafb" fill-opacity="0.8" stroke="#cbcfd3" stroke-width="0.45"/>
<rect x="413.8" y="531.1" width="12" height="5" fill="#f9fafb" fill-opacity="0.8" stroke="#cbcfd3" stroke-width="0.45"/>
<rect x="344.3" y="560.4" width="5" height="6" fill="#f9fafb" fill-opacity="0.8" stroke="#cbcfd3" stroke-width="0.45"/>
<rect x="345.8" y="500.8" width="12" height="4" fill="#f9fafb" fill-opacity="0.8" stroke="#cbcfd3" stroke-width="0.45"/>
<rect x="343.9" y="652.3" width="12" height="5" fill="#f9fafb" fill-opacity="0.8" stroke="#cbcfd3" stroke-width="0.45"/>
<rect x="409.8" y="573.8" width="12" height="12" fill="#f9fafb" fill-opacity="0.8" stroke="#cbcfd3" stroke-width="0.45"/>
<rect x="378.7" y="574.6" width="12" height="4" fill="#f9fafb" fill-opacity="0.8" stroke="#cbcfd3" stroke-width="0.45"/>
<rect x="412.8" y="624.7" width="10" height="5" fill="#f9fafb" fill-opacity="0.8" stroke="#cbcfd3" stroke-width="0.45"/>
<rect x="391.1" y="614.6" width="6" height="6" fill="#f9fafb" fill-opacity="0.8" stroke="#cbcfd3" stroke-width="0.45"/>
<rect x="335.5" y="523.3" width="10" height="12" fill="#f9fafb" fill-opacity="0.8" stroke="#cbcfd3" stroke-width="0.45"/>
<rect x="371.4" y="489.1" width="5" height="8" fill="#f9fafb" fill-opacity="0.8" stroke="#cbcfd3" stroke-width="0.45"/>
<rect x="339.4" y="594.9" width="8" height="4" fill="#f9fafb" fill-opacity="0.8" stroke="#cbcfd3" stroke-width="0.45"/>
<rect x="351.3" y="576.1" width="8" height="10" fill="#f9fafb" fill-opacity="0.8" stroke="#cbcfd3" stroke-width="0.45"/>
<rect x="337.1" y="490.4" width="6" height="5" fill="#f9fafb" fill-opacity="0.8" stroke="#cbcfd3" stroke-width="0.45"/>
<rect x="354.8" y="590.5" width="14" height="6" fill="#f9fafb" fill-opacity="0.8" stroke="#cbcfd3" stroke-width="0.45"/>
<rect x="422.0" y="522.0" width="10" height="10" fill="#f9fafb" fill-opacity="0.8" stroke="#cbcfd3" stroke-width="0.45"/>
<rect x="423.2" y="549.6" width="10" height="6" fill="#f9fafb" fill-opacity="0.8" stroke="#cbcfd3" stroke-width="0.45"/>
<rect x="328.8" y="598.7" width="10" height="4" fill="#f9fafb" fill-opacity="0.8" stroke="#cbcfd3" stroke-width="0.45"/>
<rect x="378.1" y="475.1" width="8" height="6" fill="#f9fafb" fill-opacity="0.8" stroke="#cbcfd3" stroke-width="0.45"/>
<rect x="444.7" y="655.4" width="5" height="5" fill="#f9fafb" fill-opacity="0.8" stroke="#cbcfd3" stroke-width="0.45"/>
<rect x="383.4" y="525.2" width="10" height="10" fill="#f9fafb" fill-opacity="0.8" stroke="#cbcfd3" stroke-width="0.45"/>
<rect x="321.1" y="564.7" width="8" height="8" fill="#f9fafb" fill-opacity="0.8" stroke="#cbcfd3" stroke-width="0.45"/>
<rect x="434.2" y="523.6" width="12" height="10" fill="#f9fafb" fill-opacity="0.8" stroke="#cbcfd3" stroke-width="0.45"/>
<rect x="335.7" y="509.1" width="5" height="6" fill="#f9fafb" fill-opacity="0.8" stroke="#cbcfd3" stroke-width="0.45"/>
<rect x="315.0" y="590.1" width="5" height="4" fill="#f9fafb" fill-opacity="0.8" stroke="#cbcfd3" stroke-width="0.45"/>
<rect x="370.8" y="648.5" width="14" height="8" fill="#f9fafb" fill-opacity="0.8" stroke="#cbcfd3" stroke-width="0.45"/>
<rect x="396.3" y="662.8" width="5" height="10" fill="#f9fafb" fill-opacity="0.8" stroke="#cbcfd3" stroke-width="0.45"/>
<rect x="341.2" y="591.7" width="14" height="4" fill="#f9fafb" fill-opacity="0.8" stroke="#cbcfd3" stroke-width="0.45"/>
<rect x="431.4" y="614.2" width="14" height="4" fill="#f9fafb" fill-opacity="0.8" stroke="#cbcfd3" stroke-width="0.45"/>
<rect x="367.6" y="504.8" width="10" height="5" fill="#f9fafb" fill-opacity="0.8" stroke="#cbcfd3" stroke-width="0.45"/>
<rect x="338.4" y="478.7" width="6" height="12" fill="#f9fafb" fill-opacity="0.8" stroke="#cbcfd3" stroke-width="0.45"/>
<rect x="316.0" y="588.1" width="8" height="6" fill="#f9fafb" fill-opacity="0.8" stroke="#cbcfd3" stroke-width="0.45"/>
<rect x="343.6" y="580.7" width="5" height="4" fill="#f9fafb" fill-opacity="0.8" stroke="#cbcfd3" stroke-width="0.45"/>
<rect x="406.3" y="570.4" width="14" height="12" fill="#f9fafb" fill-opacity="0.8" stroke="#cbcfd3" stroke-width="0.45"/>
<rect x="351.8" y="471.9" width="5" height="5" fill="#f9fafb" fill-opacity="0.8" stroke="#cbcfd3" stroke-width="0.45"/>
<rect x="410.5" y="592.4" width="6" height="12" fill="#f9fafb" fill-opacity="0.8" stroke="#cbcfd3" stroke-width="0.45"/>
<rect x="322.0" y="537.5" width="10" height="12" fill="#f9fafb" fill-opacity="0.8" stroke="#cbcfd3" stroke-width="0.45"/>
<rect x="324.8" y="571.9" width="8" height="8" fill="#f9fafb" fill-opacity="0.8" stroke="#cbcfd3" stroke-width="0.45"/>
<rect x="340.7" y="500.8" width="6" height="8" fill="#f9fafb" fill-opacity="0.8" stroke="#cbcfd3" stroke-width="0.45"/>
<rect x="368.4" y="666.3" width="14" height="4" fill="#f9fafb" fill-opacity="0.8" stroke="#cbcfd3" stroke-width="0.45"/>
<rect x="436.0" y="517.7" width="5" height="5" fill="#f9fafb" fill-opacity="0.8" stroke="#cbcfd3" stroke-width="0.45"/>
<rect x="424.4" y="500.4" width="12" height="6" fill="#f9fafb" fill-opacity="0.8" stroke="#cbcfd3" stroke-width="0.45"/>
<rect x="431.2" y="553.2" width="10" height="4" fill="#f9fafb" fill-opacity="0.8" stroke="#cbcfd3" stroke-width="0.45"/>
<rect x="318.4" y="671.3" width="5" height="12" fill="#f9fafb" fill-opacity="0.8" stroke="#cbcfd3" stroke-width="0.45"/>
<rect x="372.5" y="604.7" width="8" height="5" fill="#f9fafb" fill-opacity="0.8" stroke="#cbcfd3" stroke-width="0.45"/>
<rect x="338.4" y="482.7" width="6" height="6" fill="#f9fafb" fill-opacity="0.8" stroke="#cbcfd3" stroke-width="0.45"/>
<rect x="379.4" y="501.1" width="14" height="8" fill="#f9fafb" fill-opacity="0.8" stroke="#cbcfd3" stroke-width="0.45"/>
<rect x="365.3" y="523.1" width="6" height="6" fill="#f9fafb" fill-opacity="0.8" stroke="#cbcfd3" stroke-width="0.45"/>
<rect x="386.8" y="533.7" width="5" height="6" fill="#f9fafb" fill-opacity="0.8" stroke="#cbcfd3" stroke-width="0.45"/>
<rect x="375.3" y="538.2" width="6" height="6" fill="#f9fafb" fill-opacity="0.8" stroke="#cbcfd3" stroke-width="0.45"/>
<rect x="328.4" y="580.7" width="10" height="4" fill="#f9fafb" fill-opacity="0.8" stroke="#cbcfd3" stroke-width="0.45"/>
<rect x="427.4" y="586.2" width="14" height="12" fill="#f9fafb" fill-opacity="0.8" stroke="#cbcfd3" stroke-width="0.45"/>
<rect x="342.8" y="513.9" width="8" height="4" fill="#f9fafb" fill-opacity="0.8" stroke="#cbcfd3" stroke-width="0.45"/>
<rect x="441.8" y="680.6" width="8" height="8" fill="#f9fafb" fill-opacity="0.8" stroke="#cbcfd3" stroke-width="0.45"/>
<rect x="361.4" y="559.8" width="6" height="4" fill="#f9fafb" fill-opacity="0.8" stroke="#cbcfd3" stroke-width="0.45"/>
<rect x="422.0" y="680.4" width="6" height="4" fill="#f9fafb" fill-opacity="0.8" stroke="#cbcfd3" stroke-width="0.45"/>
<rect x="310.2" y="637.2" width="6" height="12" fill="#f9fafb" fill-opacity="0.8" stroke="#cbcfd3" stroke-width="0.45"/>
<rect x="326.9" y="471.1" width="8" height="10" fill="#f9fafb" fill-opacity="0.8" stroke="#cbcfd3" stroke-width="0.45"/>
<rect x="332.3" y="563.1" width="12" height="6" fill="#f9fafb" fill-opacity="0.8" stroke="#cbcfd3" stroke-width="0.45"/>
<rect x="344.8" y="509.2" width="10" height="5" fill="#f9fafb" fill-opacity="0.8" stroke="#cbcfd3" stroke-width="0.45"/>
<rect x="413.6" y="618.9" width="6" height="10" fill="#f9fafb" fill-opacity="0.8" stroke="#cbcfd3" stroke-width="0.45"/>
<rect x="318.9" y="488.9" width="6" height="10" fill="#f9fafb" fill-opacity="0.8" stroke="#cbcfd3" stroke-width="0.45"/>
<rect x="372.9" y="527.2" width="12" height="12" fill="#f9fafb" fill-opacity="0.8" stroke="#cbcfd3" stroke-width="0.45"/>
<rect x="391.9" y="621.7" width="6" height="5" fill="#f9fafb" fill-opacity="0.8" stroke="#cbcfd3" stroke-width="0.45"/>
<rect x="350.2" y="472.8" width="6" height="10" fill="#f9fafb" fill-opacity="0.8" stroke="#cbcfd3" stroke-width="0.45"/>
<rect x="375.0" y="644.2" width="14" height="12" fill="#f9fafb" fill-opacity="0.8" stroke="#cbcfd3" stroke-width="0.45"/>
<rect x="419.9" y="540.5" width="5" height="10" fill="#f9fafb" fill-opacity="0.8" stroke="#cbcfd3" stroke-width="0.45"/>
<rect x="319.7" y="556.8" width="14" height="8" fill="#f9fafb" fill-opacity="0.8" stroke="#cbcfd3" stroke-width="0.45"/>
<rect x="424.0" y="527.5" width="10" height="5" fill="#f9fafb" fill-opacity="0.8" stroke="#cbcfd3" stroke-width="0.45"/>
<rect x="421.9" y="547.2" width="6" height="10" fill="#f9fafb" fill-opacity="0.8" stroke="#cbcfd3" stroke-width="0.45"/>
<rect x="358.8" y="593.4" width="6" height="12" fill="#f9fafb" fill-opacity="0.8" stroke="#cbcfd3" stroke-width="0.45"/>
<rect x="379.7" y="565.3" width="5" height="6" fill="#f9fafb" fill-opacity="0.8" stroke="#cbcfd3" stroke-width="0.45"/>
<rect x="323.8" y="623.8" width="12" height="4" fill="#f9fafb" fill-opacity="0.8" stroke="#cbcfd3" stroke-width="0.45"/>
<rect x="425.2" y="589.6" width="8" height="12" fill="#f9fafb" fill-opacity="0.8" stroke="#cbcfd3" stroke-width="0.45"/>
<rect x="428.4" y="673.2" width="5" height="6" fill="#f9fafb" fill-opacity="0.8" stroke="#cbcfd3" stroke-width="0.45"/>
<rect x="376.3" y="582.3" width="10" height="8" fill="#f9fafb" fill-opacity="0.8" stroke="#cbcfd3" stroke-width="0.45"/>
<rect x="310.7" y="677.1" width="12" height="5" fill="#f9fafb" fill-opacity="0.8" stroke="#cbcfd3" stroke-width="0.45"/>
<rect x="339.4" y="511.0" width="4" height="1.1" fill="#a3a6aa"/>
<rect x="351.4" y="591.3" width="4" height="1.1" fill="#a3a6aa"/>
<rect x="311.6" y="671.1" width="6" height="1.1" fill="#a3a6aa"/>
<rect x="335.5" y="475.5" width="6" height="1.1" fill="#a3a6aa"/>
<rect x="395.6" y="571.6" width="4" height="1.1" fill="#a3a6aa"/>
<rect x="404.6" y="493.8" width="4" height="1.1" fill="#a3a6aa"/>
<rect x="406.5" y="481.4" width="4" height="1.1" fill="#a3a6aa"/>
<rect x="372.2" y="597.8" width="5" height="1.1" fill="#a3a6aa"/>
<rect x="324.0" y="497.9" width="4" height="1.1" fill="#a3a6aa"/>
<rect x="382.7" y="520.7" width="4" height="1.1" fill="#a3a6aa"/>
<rect x="329.0" y="595.0" width="6" height="1.1" fill="#a3a6aa"/>
<rect x="362.9" y="675.8" width="4" height="1.1" fill="#a3a6aa"/>
<rect x="436.5" y="555.4" width="5" height="1.1" fill="#a3a6aa"/>
<rect x="390.2" y="601.5" width="4" height="1.1" fill="#a3a6aa"/>
<rect x="362.8" y="674.4" width="5" height="1.1" fill="#a3a6aa"/>
<rect x="355.0" y="523.5" width="5" height="1.1" fill="#a3a6aa"/>
<rect x="406.3" y="653.2" width="6" height="1.1" fill="#a3a6aa"/>
<rect x="418.4" y="668.2" width="5" height="1.1" fill="#a3a6aa"/>
<rect x="424.3" y="483.2" width="6" height="1.1" fill="#a3a6aa"/>
<rect x="328.9" y="618.1" width="5" height="1.1" fill="#a3a6aa"/>
<rect x="342.9" y="562.6" width="6" height="1.1" fill="#a3a6aa"/>
<rect x="310.6" y="495.2" width="4" height="1.1" fill="#a3a6aa"/>
<rect x="318.4" y="564.9" width="6" height="1.1" fill="#a3a6aa"/>
<rect x="400.0" y="520.2" width="5" height="1.1" fill="#a3a6aa"/>
<rect x="440.9" y="638.9" width="5" height="1.1" fill="#a3a6aa"/>
<rect x="395.1" y="645.9" width="4" height="1.1" fill="#a3a6aa"/>
<rect x="313.7" y="609.8" width="5" height="1.1" fill="#a3a6aa"/>
<rect x="433.8" y="605.9" width="6" height="1.1" fill="#a3a6aa"/>
<rect x="382.7" y="670.7" width="6" height="1.1" fill="#a3a6aa"/>
<rect x="322.7" y="497.9" width="4" height="1.1" fill="#a3a6aa"/>
<rect x="368.0" y="676.4" width="5" height="1.1" fill="#a3a6aa"/>
<rect x="324.4" y="546.5" width="4" height="1.1" fill="#a3a6aa"/>
<rect x="325.4" y="599.7" width="6" height="1.1" fill="#a3a6aa"/>
<rect x="431.6" y="489.9" width="6" height="1.1" fill="#a3a6aa"/>
<rect x="381.6" y="503.7" width="4" height="1.1" fill="#a3a6aa"/>
<rect x="378.6" y="662.3" width="5" height="1.1" fill="#a3a6aa"/>
<rect x="387.5" y="530.7" width="6" height="1.1" fill="#a3a6aa"/>
<rect x="320.9" y="589.3" width="5" height="1.1" fill="#a3a6aa"/>
<rect x="392.0" y="594.5" width="6" height="1.1" fill="#a3a6aa"/>
<rect x="361.6" y="589.8" width="5" height="1.1" fill="#a3a6aa"/>
<rect x="371.7" y="589.7" width="6" height="1.1" fill="#a3a6aa"/>
<rect x="374.0" y="648.0" width="4" height="1.1" fill="#a3a6aa"/>
<rect x="341.9" y="519.4" width="6" height="1.1" fill="#a3a6aa"/>
<rect x="383.2" y="680.5" width="5" height="1.1" fill="#a3a6aa"/>
<rect x="310.6" y="547.6" width="4" height="1.1" fill="#a3a6aa"/>
<rect x="353.1" y="541.8" width="5" height="1.1" fill="#a3a6aa"/>
<rect x="347.7" y="684.3" width="5" height="1.1" fill="#a3a6aa"/>
<rect x="316.7" y="476.4" width="6" height="1.1" fill="#a3a6aa"/>
<rect x="318.1" y="659.3" width="5" height="1.1" fill="#a3a6aa"/>
<rect x="398.4" y="583.0" width="5" height="1.1" fill="#a3a6aa"/>
<rect x="357.2" y="635.9" width="6" height="1.1" fill="#a3a6aa"/>
<rect x="339.6" y="678.2" width="6" height="1.1" fill="#a3a6aa"/>
<rect x="436.0" y="561.4" width="6" height="1.1" fill="#a3a6aa"/>
<rect x="356.9" y="617.1" width="6" height="1.1" fill="#a3a6aa"/>
<rect x="392.1" y="531.3" width="6" height="1.1" fill="#a3a6aa"/>
<rect x="321.9" y="656.1" width="5" height="1.1" fill="#a3a6aa"/>
<rect x="345.5" y="607.5" width="6" height="1.1" fill="#a3a6aa"/>
<rect x="433.4" y="499.1" width="4" height="1.1" fill="#a3a6aa"/>
<rect x="309.6" y="636.6" width="6" height="1.1" fill="#a3a6aa"/>
<rect x="325.0" y="557.3" width="6" height="1.1" fill="#a3a6aa"/>
<rect x="329.4" y="654.7" width="5" height="1.1" fill="#a3a6aa"/>
<rect x="427.7" y="602.5" width="5" height="1.1" fill="#a3a6aa"/>
<rect x="424.8" y="620.8" width="5" height="1.1" fill="#a3a6aa"/>
<circle cx="350.7" cy="556.4" r="0.9" fill="#c8385a"/>
<rect x="352.4" y="517.0" width="54.6" height="132.0" fill="#ffffff" />
<line x1="362.6" y1="518.0" x2="395.8" y2="518.0" stroke="#2e2e2e" stroke-width="2.00"/>
<line x1="364.4" y1="518.0" x2="364.4" y2="567.8" stroke="#2e2e2e" stroke-width="1.60"/>
<line x1="369.0" y1="518.0" x2="369.0" y2="565.0" stroke="#2e2e2e" stroke-width="1.60"/>
<line x1="389.3" y1="518.0" x2="389.3" y2="565.0" stroke="#2e2e2e" stroke-width="1.60"/>
<line x1="394.0" y1="518.0" x2="394.0" y2="567.8" stroke="#2e2e2e" stroke-width="1.60"/>
<line x1="364.4" y1="567.8" x2="374.6" y2="567.8" stroke="#2e2e2e" stroke-width="1.60"/>
<line x1="382.0" y1="567.8" x2="394.0" y2="567.8" stroke="#2e2e2e" stroke-width="1.60"/>
<line x1="369.0" y1="522.4" x2="389.3" y2="522.4" stroke="#2e2e2e" stroke-width="1.00"/>
<line x1="371.8" y1="529.0" x2="371.8" y2="560.0" stroke="#cfcfcf" stroke-width="0.41"/>
<line x1="376.7" y1="529.0" x2="376.7" y2="560.0" stroke="#cfcfcf" stroke-width="0.41"/>
<line x1="381.7" y1="529.0" x2="381.7" y2="560.0" stroke="#cfcfcf" stroke-width="0.41"/>
<line x1="386.6" y1="529.0" x2="386.6" y2="560.0" stroke="#cfcfcf" stroke-width="0.41"/>
<line x1="371.8" y1="529.0" x2="386.6" y2="529.0" stroke="#cfcfcf" stroke-width="0.41"/>
<line x1="371.8" y1="532.1" x2="386.6" y2="532.1" stroke="#cfcfcf" stroke-width="0.41"/>
<line x1="371.8" y1="535.2" x2="386.6" y2="535.2" stroke="#cfcfcf" stroke-width="0.41"/>
<line x1="371.8" y1="538.3" x2="386.6" y2="538.3" stroke="#cfcfcf" stroke-width="0.41"/>
<line x1="371.8" y1="541.4" x2="386.6" y2="541.4" stroke="#cfcfcf" stroke-width="0.41"/>
<line x1="371.8" y1="544.5" x2="386.6" y2="544.5" stroke="#cfcfcf" stroke-width="0.41"/>
<line x1="371.8" y1="547.6" x2="386.6" y2="547.6" stroke="#cfcfcf" stroke-width="0.41"/>
<line x1="371.8" y1="550.7" x2="386.6" y2="550.7" stroke="#cfcfcf" stroke-width="0.41"/>
<line x1="371.8" y1="553.8" x2="386.6" y2="553.8" stroke="#cfcfcf" stroke-width="0.41"/>
<line x1="371.8" y1="556.9" x2="386.6" y2="556.9" stroke="#cfcfcf" stroke-width="0.41"/>
<line x1="371.8" y1="560.0" x2="386.6" y2="560.0" stroke="#cfcfcf" stroke-width="0.41"/>
<line x1="365.3" y1="581.7" x2="394.0" y2="581.7" stroke="#2e2e2e" stroke-width="2.00"/>
<line x1="365.3" y1="581.7" x2="365.3" y2="602.9" stroke="#2e2e2e" stroke-width="1.60"/>
<line x1="394.0" y1="581.7" x2="394.0" y2="602.9" stroke="#2e2e2e" stroke-width="1.60"/>
<line x1="379.7" y1="581.7" x2="379.7" y2="602.9" stroke="#2e2e2e" stroke-width="1.60"/>
<line x1="365.3" y1="602.9" x2="369.0" y2="602.9" stroke="#2e2e2e" stroke-width="1.60"/>
<line x1="376.4" y1="602.9" x2="382.9" y2="602.9" stroke="#2e2e2e" stroke-width="1.60"/>
<line x1="390.3" y1="602.9" x2="394.0" y2="602.9" stroke="#2e2e2e" stroke-width="1.60"/>
<line x1="365.3" y1="643.6" x2="394.0" y2="643.6" stroke="#2e2e2e" stroke-width="2.00"/>
<line x1="365.3" y1="614.0" x2="365.3" y2="643.6" stroke="#2e2e2e" stroke-width="1.60"/>
<line x1="394.0" y1="614.0" x2="394.0" y2="643.6" stroke="#2e2e2e" stroke-width="1.60"/>
<line x1="379.7" y1="622.3" x2="379.7" y2="643.6" stroke="#2e2e2e" stroke-width="1.60"/>
<rect x="365.3" y="614.0" width="3.7" height="7.4" fill="none" stroke="#2e2e2e" stroke-width="1.00"/>
<rect x="390.3" y="614.0" width="3.7" height="7.4" fill="none" stroke="#2e2e2e" stroke-width="1.00"/>
<line x1="366.0" y1="582.5" x2="379.0" y2="602.0" stroke="#d8d8d8" stroke-width="0.36"/>
<line x1="366.0" y1="602.0" x2="379.0" y2="582.5" stroke="#d8d8d8" stroke-width="0.36"/>
<line x1="380.5" y1="582.5" x2="393.5" y2="602.0" stroke="#d8d8d8" stroke-width="0.36"/>
<line x1="380.5" y1="602.0" x2="393.5" y2="582.5" stroke="#d8d8d8" stroke-width="0.36"/>
<line x1="366.0" y1="622.0" x2="379.0" y2="643.0" stroke="#d8d8d8" stroke-width="0.36"/>
<line x1="366.0" y1="643.0" x2="379.0" y2="622.0" stroke="#d8d8d8" stroke-width="0.36"/>
<line x1="380.5" y1="622.0" x2="393.5" y2="643.0" stroke="#d8d8d8" stroke-width="0.36"/>
<line x1="380.5" y1="643.0" x2="393.5" y2="622.0" stroke="#d8d8d8" stroke-width="0.36"/>
<line x1="341.7" y1="466.7" x2="341.7" y2="493.0" stroke="#2e2e2e" stroke-width="2.00"/>
<line x1="304.0" y1="493.7" x2="333.3" y2="493.7" stroke="#2e2e2e" stroke-width="2.00"/>
<line x1="333.3" y1="493.7" x2="333.3" y2="503.0" stroke="#2e2e2e" stroke-width="2.00"/>
<line x1="333.3" y1="503.0" x2="348.7" y2="503.0" stroke="#2e2e2e" stroke-width="2.00"/>
<line x1="348.7" y1="503.0" x2="348.7" y2="516.0" stroke="#2e2e2e" stroke-width="2.00"/>
<line x1="348.7" y1="516.0" x2="353.3" y2="516.0" stroke="#2e2e2e" stroke-width="2.00"/>
<line x1="313.2" y1="517.6" x2="348.7" y2="517.6" stroke="#2e2e2e" stroke-width="1.60"/>
<line x1="347.9" y1="518.4" x2="347.9" y2="539.2" stroke="#2e2e2e" stroke-width="1.60"/>
<line x1="351.8" y1="518.4" x2="351.8" y2="539.2" stroke="#2e2e2e" stroke-width="1.60"/>
<line x1="347.9" y1="539.2" x2="352.4" y2="539.2" stroke="#2e2e2e" stroke-width="1.08"/>
<line x1="341.0" y1="542.3" x2="351.8" y2="542.3" stroke="#2e2e2e" stroke-width="1.60"/>
<line x1="341.0" y1="542.3" x2="341.0" y2="547.0" stroke="#2e2e2e" stroke-width="1.00"/>
<line x1="304.0" y1="543.1" x2="330.2" y2="543.1" stroke="#2e2e2e" stroke-width="2.00"/>
<line x1="330.2" y1="553.9" x2="330.2" y2="567.0" stroke="#2e2e2e" stroke-width="1.00"/>
<line x1="330.2" y1="553.9" x2="351.8" y2="553.9" stroke="#2e2e2e" stroke-width="1.00"/>
<line x1="348.7" y1="555.4" x2="348.7" y2="592.4" stroke="#2e2e2e" stroke-width="2.00"/>
<line x1="304.0" y1="567.8" x2="348.7" y2="567.8" stroke="#2e2e2e" stroke-width="2.00"/>
<line x1="363.3" y1="497.6" x2="363.3" y2="516.6" stroke="#2e2e2e" stroke-width="1.60"/>
<line x1="363.3" y1="497.6" x2="380.0" y2="497.6" stroke="#2e2e2e" stroke-width="1.60"/>
<line x1="381.1" y1="466.7" x2="381.1" y2="516.9" stroke="#2e2e2e" stroke-width="2.00"/>
<line x1="363.3" y1="516.9" x2="381.1" y2="516.9" stroke="#2e2e2e" stroke-width="2.00"/>
<line x1="352.4" y1="517.0" x2="352.4" y2="649.0" stroke="#2e2e2e" stroke-width="1.08"/>
<line x1="379.3" y1="516.9" x2="397.0" y2="516.9" stroke="#2e2e2e" stroke-width="2.00"/>
<line x1="395.5" y1="497.6" x2="395.5" y2="516.9" stroke="#2e2e2e" stroke-width="1.00"/>
<line x1="380.0" y1="497.6" x2="395.5" y2="497.6" stroke="#2e2e2e" stroke-width="1.00"/>
<line x1="417.9" y1="466.7" x2="417.9" y2="493.7" stroke="#2e2e2e" stroke-width="1.60"/>
<line x1="427.1" y1="493.7" x2="454.9" y2="493.7" stroke="#2e2e2e" stroke-width="2.00"/>
<line x1="427.1" y1="493.7" x2="427.1" y2="518.4" stroke="#2e2e2e" stroke-width="2.00"/>
<line x1="405.5" y1="518.4" x2="427.1" y2="518.4" stroke="#2e2e2e" stroke-width="2.00"/>
<line x1="412.5" y1="502.2" x2="412.5" y2="516.9" stroke="#2e2e2e" stroke-width="1.00"/>
<line x1="407.8" y1="502.2" x2="417.9" y2="502.2" stroke="#2e2e2e" stroke-width="1.00"/>
<line x1="410.2" y1="518.4" x2="410.2" y2="532.3" stroke="#2e2e2e" stroke-width="2.00"/>
<line x1="407.1" y1="532.3" x2="432.5" y2="532.3" stroke="#2e2e2e" stroke-width="2.00"/>
<line x1="432.5" y1="519.2" x2="432.5" y2="532.3" stroke="#2e2e2e" stroke-width="1.60"/>
<line x1="407.1" y1="518.4" x2="407.1" y2="562.4" stroke="#2e2e2e" stroke-width="1.60"/>
<line x1="407.1" y1="548.5" x2="421.7" y2="548.5" stroke="#2e2e2e" stroke-width="1.00"/>
<line x1="421.7" y1="542.3" x2="421.7" y2="548.5" stroke="#2e2e2e" stroke-width="1.00"/>
<line x1="421.7" y1="557.7" x2="421.7" y2="562.4" stroke="#2e2e2e" stroke-width="1.00"/>
<line x1="429.5" y1="543.1" x2="454.9" y2="543.1" stroke="#2e2e2e" stroke-width="2.00"/>
<line x1="407.1" y1="562.4" x2="429.5" y2="562.4" stroke="#2e2e2e" stroke-width="2.00"/>
<line x1="429.5" y1="562.4" x2="429.5" y2="567.8" stroke="#2e2e2e" stroke-width="2.00"/>
<line x1="429.5" y1="567.8" x2="454.9" y2="567.8" stroke="#2e2e2e" stroke-width="2.00"/>
<line x1="410.2" y1="563.9" x2="410.2" y2="586.6" stroke="#2e2e2e" stroke-width="2.00"/>
<line x1="410.2" y1="563.9" x2="427.9" y2="563.9" stroke="#2e2e2e" stroke-width="1.00"/>
<line x1="350.2" y1="575.0" x2="350.2" y2="590.4" stroke="#2e2e2e" stroke-width="2.00"/>
<line x1="304.0" y1="592.7" x2="330.2" y2="592.7" stroke="#2e2e2e" stroke-width="2.00"/>
<line x1="330.2" y1="599.7" x2="330.2" y2="616.7" stroke="#2e2e2e" stroke-width="1.00"/>
<line x1="304.0" y1="616.7" x2="351.8" y2="616.7" stroke="#2e2e2e" stroke-width="2.00"/>
<line x1="339.4" y1="592.0" x2="339.4" y2="602.8" stroke="#2e2e2e" stroke-width="1.00"/>
<line x1="339.4" y1="592.0" x2="351.8" y2="592.0" stroke="#2e2e2e" stroke-width="1.60"/>
<line x1="351.8" y1="592.0" x2="351.8" y2="616.7" stroke="#2e2e2e" stroke-width="1.60"/>
<rect x="347.9" y="604.3" width="3.9" height="7.7" fill="none" stroke="#2e2e2e" stroke-width="1.00"/>
<line x1="324.8" y1="618.2" x2="324.8" y2="631.3" stroke="#2e2e2e" stroke-width="1.00"/>
<line x1="334.0" y1="618.2" x2="334.0" y2="632.1" stroke="#2e2e2e" stroke-width="1.00"/>
<line x1="334.0" y1="632.1" x2="351.8" y2="632.1" stroke="#2e2e2e" stroke-width="1.00"/>
<line x1="351.8" y1="618.2" x2="351.8" y2="649.0" stroke="#2e2e2e" stroke-width="1.60"/>
<line x1="330.2" y1="642.9" x2="330.2" y2="692.3" stroke="#2e2e2e" stroke-width="2.00"/>
<line x1="339.4" y1="649.0" x2="350.2" y2="649.0" stroke="#2e2e2e" stroke-width="1.60"/>
<line x1="339.4" y1="649.0" x2="339.4" y2="658.3" stroke="#2e2e2e" stroke-width="1.00"/>
<line x1="339.4" y1="663.7" x2="351.8" y2="663.7" stroke="#2e2e2e" stroke-width="2.00"/>
<line x1="350.2" y1="649.0" x2="350.2" y2="663.7" stroke="#2e2e2e" stroke-width="2.00"/>
<line x1="313.2" y1="667.6" x2="330.2" y2="667.6" stroke="#2e2e2e" stroke-width="1.00"/>
<line x1="354.1" y1="663.7" x2="354.1" y2="692.3" stroke="#2e2e2e" stroke-width="2.00"/>
<line x1="350.2" y1="649.0" x2="365.7" y2="649.0" stroke="#2e2e2e" stroke-width="2.00"/>
<line x1="365.7" y1="643.7" x2="365.7" y2="649.0" stroke="#2e2e2e" stroke-width="2.00"/>
<line x1="407.9" y1="575.0" x2="407.9" y2="590.4" stroke="#2e2e2e" stroke-width="2.00"/>
<line x1="407.9" y1="590.4" x2="419.4" y2="590.4" stroke="#2e2e2e" stroke-width="1.60"/>
<line x1="428.7" y1="575.0" x2="428.7" y2="592.0" stroke="#2e2e2e" stroke-width="1.00"/>
<line x1="428.7" y1="592.0" x2="454.9" y2="592.0" stroke="#2e2e2e" stroke-width="2.00"/>
<line x1="411.7" y1="590.4" x2="411.7" y2="632.1" stroke="#2e2e2e" stroke-width="2.00"/>
<line x1="407.1" y1="590.4" x2="407.1" y2="632.1" stroke="#2e2e2e" stroke-width="1.60"/>
<line x1="407.1" y1="632.1" x2="411.7" y2="632.1" stroke="#2e2e2e" stroke-width="1.60"/>
<line x1="411.7" y1="617.4" x2="454.9" y2="617.4" stroke="#2e2e2e" stroke-width="2.00"/>
<line x1="415.6" y1="618.2" x2="415.6" y2="632.1" stroke="#2e2e2e" stroke-width="1.00"/>
<line x1="431.0" y1="621.3" x2="431.0" y2="632.1" stroke="#2e2e2e" stroke-width="1.00"/>
<line x1="415.6" y1="632.1" x2="431.0" y2="632.1" stroke="#2e2e2e" stroke-width="1.00"/>
<line x1="415.6" y1="641.3" x2="415.6" y2="650.6" stroke="#2e2e2e" stroke-width="2.00"/>
<line x1="415.6" y1="650.6" x2="428.7" y2="650.6" stroke="#2e2e2e" stroke-width="2.00"/>
<line x1="428.7" y1="641.3" x2="428.7" y2="692.3" stroke="#2e2e2e" stroke-width="2.00"/>
<line x1="408.6" y1="646.7" x2="415.6" y2="646.7" stroke="#2e2e2e" stroke-width="2.00"/>
<line x1="428.7" y1="667.6" x2="445.6" y2="667.6" stroke="#2e2e2e" stroke-width="1.00"/>
<line x1="406.0" y1="656.8" x2="406.0" y2="667.6" stroke="#2e2e2e" stroke-width="1.60"/>
<line x1="380.1" y1="658.3" x2="406.0" y2="658.3" stroke="#2e2e2e" stroke-width="2.00"/>
<line x1="380.3" y1="643.7" x2="380.3" y2="692.3" stroke="#2e2e2e" stroke-width="2.00"/>
<line x1="415.6" y1="665.2" x2="428.7" y2="665.2" stroke="#2e2e2e" stroke-width="1.00"/>
<line x1="415.6" y1="665.2" x2="415.6" y2="670.6" stroke="#2e2e2e" stroke-width="1.00"/>
<line x1="377.0" y1="643.7" x2="398.6" y2="643.7" stroke="#2e2e2e" stroke-width="2.00"/>
<line x1="398.6" y1="643.7" x2="398.6" y2="646.7" stroke="#2e2e2e" stroke-width="1.00"/>
<rect x="304.3" y="467.0" width="150.4" height="225.70000000000002" fill="none" stroke="#dde0e3" stroke-width="2.8"/>
<rect x="303.0" y="465.7" width="153" height="228.3" fill="none" stroke="#a6abb0" stroke-width="0.6"/>
<rect x="305.7" y="468.4" width="147.6" height="222.9" fill="none" stroke="#b3b7bc" stroke-width="0.5"/>
<rect x="299.5" y="462.2" width="9.0" height="9.0" fill="#1c1c1c" rx="1.2"/>
<rect x="325.4" y="462.5" width="7.6" height="6.5" fill="#1c1c1c" rx="1.2"/>
<rect x="350.5" y="462.5" width="7.6" height="6.5" fill="#1c1c1c" rx="1.2"/>
<rect x="375.7" y="462.5" width="7.6" height="6.5" fill="#1c1c1c" rx="1.2"/>
<rect x="400.9" y="462.5" width="7.6" height="6.5" fill="#1c1c1c" rx="1.2"/>
<rect x="426.0" y="462.5" width="7.6" height="6.5" fill="#1c1c1c" rx="1.2"/>
<rect x="450.5" y="462.2" width="9.0" height="9.0" fill="#1c1c1c" rx="1.2"/>
<rect x="299.8" y="488.0" width="6.5" height="7.6" fill="#1c1c1c" rx="1.2"/>
<rect x="452.7" y="488.0" width="6.5" height="7.6" fill="#1c1c1c" rx="1.2"/>
<rect x="299.8" y="513.2" width="6.5" height="7.6" fill="#1c1c1c" rx="1.2"/>
<rect x="452.7" y="513.2" width="6.5" height="7.6" fill="#1c1c1c" rx="1.2"/>
<rect x="299.8" y="538.3" width="6.5" height="7.6" fill="#1c1c1c" rx="1.2"/>
<rect x="452.7" y="538.3" width="6.5" height="7.6" fill="#1c1c1c" rx="1.2"/>
<rect x="299.8" y="563.5" width="6.5" height="7.6" fill="#1c1c1c" rx="1.2"/>
<rect x="452.7" y="563.5" width="6.5" height="7.6" fill="#1c1c1c" rx="1.2"/>
<rect x="299.8" y="588.6" width="6.5" height="7.6" fill="#1c1c1c" rx="1.2"/>
<rect x="452.7" y="588.6" width="6.5" height="7.6" fill="#1c1c1c" rx="1.2"/>
<rect x="299.8" y="613.8" width="6.5" height="7.6" fill="#1c1c1c" rx="1.2"/>
<rect x="452.7" y="613.8" width="6.5" height="7.6" fill="#1c1c1c" rx="1.2"/>
<rect x="299.8" y="638.9" width="6.5" height="7.6" fill="#1c1c1c" rx="1.2"/>
<rect x="452.7" y="638.9" width="6.5" height="7.6" fill="#1c1c1c" rx="1.2"/>
<rect x="299.8" y="664.1" width="6.5" height="7.6" fill="#1c1c1c" rx="1.2"/>
<rect x="452.7" y="664.1" width="6.5" height="7.6" fill="#1c1c1c" rx="1.2"/>
<rect x="299.5" y="688.5" width="9.0" height="9.0" fill="#1c1c1c" rx="1.2"/>
<rect x="325.4" y="690.7" width="7.6" height="6.5" fill="#1c1c1c" rx="1.2"/>
<rect x="350.5" y="690.7" width="7.6" height="6.5" fill="#1c1c1c" rx="1.2"/>
<rect x="375.7" y="690.7" width="7.6" height="6.5" fill="#1c1c1c" rx="1.2"/>
<rect x="400.9" y="690.7" width="7.6" height="6.5" fill="#1c1c1c" rx="1.2"/>
<rect x="426.0" y="690.7" width="7.6" height="6.5" fill="#1c1c1c" rx="1.2"/>
<rect x="450.5" y="688.5" width="9.0" height="9.0" fill="#1c1c1c" rx="1.2"/>
<path d="M1154.38,242.74 A68,68 0 0 1 1166.17,303.34" fill="none" stroke="#1c1c1c" stroke-width="2.3"/>
<path d="M1142.66,338.18 A68,68 0 0 1 1082.06,349.97" fill="none" stroke="#1c1c1c" stroke-width="2.3"/>
<path d="M1047.22,326.46 A68,68 0 0 1 1035.43,265.86" fill="none" stroke="#1c1c1c" stroke-width="2.3"/>
<path d="M1058.94,231.02 A68,68 0 0 1 1119.54,219.23" fill="none" stroke="#1c1c1c" stroke-width="2.3"/>
<path d="M1094.10,244.56 L1105.86,273.61 L1092.44,275.86Z" fill="#fff" stroke="#1c1c1c" stroke-width="2.3" stroke-linejoin="miter"/>
<path d="M1140.84,277.90 L1111.79,289.66 L1109.54,276.24Z" fill="#fff" stroke="#1c1c1c" stroke-width="2.3" stroke-linejoin="miter"/>
<path d="M1107.50,324.64 L1095.74,295.59 L1109.16,293.34Z" fill="#fff" stroke="#1c1c1c" stroke-width="2.3" stroke-linejoin="miter"/>
<path d="M1060.76,291.30 L1089.81,279.54 L1092.06,292.96Z" fill="#fff" stroke="#1c1c1c" stroke-width="2.3" stroke-linejoin="miter"/>
<path d="M1141.59,313.16 L1103.20,298.19 L1072.24,325.39 L1087.21,287.00 L1060.01,256.04 L1098.40,271.01 L1129.36,243.81 L1114.39,282.20Z" fill="#fff" stroke="#1c1c1c" stroke-width="2.4" stroke-linejoin="miter" stroke-miterlimit="10"/>
<circle cx="1100.8" cy="284.6" r="5.6" fill="#fff" stroke="#1c1c1c" stroke-width="2.5"/>
<path d="M229.8,324.6 L229.8,303.4" stroke="#111" stroke-width="1.9" fill="none"/>
<path d="M223.3,311.09999999999997 L229.8,303.2 L236.3,311.09999999999997" stroke="#111" stroke-width="1.9" fill="none"/>
<path d="M759.2,328.5 L759.2,307.5" stroke="#111" stroke-width="1.9" fill="none"/>
<path d="M752.7,315.2 L759.2,307.3 L765.7,315.2" stroke="#111" stroke-width="1.9" fill="none"/>
<path d="M961.6,507.6 L961.6,528.3" stroke="#111" stroke-width="1.9" fill="none"/>
<path d="M955.1,520.5 L961.6,528.5 L968.1,520.5" stroke="#111" stroke-width="1.9" fill="none"/>
<path d="M267.2,605.2 L288.7,605.2" stroke="#111" stroke-width="1.9" fill="none"/>
<path d="M280.3,598.7 L288.9,605.2 L280.3,611.7" stroke="#111" stroke-width="1.9" fill="none"/>
<text x="42.6" y="53" font-size="46" font-weight="bold" >29-30</text>
<text x="171" y="53" font-size="40" font-weight="bold" letter-spacing="1.15">уровни</text>
<text x="469" y="52.8" font-size="30" font-weight="normal" textLength="315" lengthAdjust="spacing">Пешеходный бульвар</text>
<text x="461" y="781.6" font-size="30" font-weight="normal" >ул. Тимофея Чаркова</text>
<text x="0" y="0" font-size="30" transform="translate(43,608.3) rotate(-90)" textLength="384" lengthAdjust="spacing">Многоуровневый паркинг</text>
<text x="562" y="417.4" font-size="41" font-weight="normal" textLength="100.5" lengthAdjust="spacing">Двор</text>
<text x="0" y="0" font-size="35" font-weight="bold" transform="translate(105.8,122.5) scale(0.875,1)">2</text>
<text x="0" y="0" font-size="35" font-weight="bold" transform="translate(635.5,122.5) scale(0.875,1)">3</text>
<path d="M314.3,721.6 L319.7,713.9 L322.9,713.9 L322.9,737.8 L318.9,737.8 L318.9,720.6 L316.5,724.6 Z" fill="#111"/>
<text x="848.5" y="737.2" font-size="34" font-weight="bold" >4</text>
<text x="1026" y="254.7" font-size="31" font-weight="bold" >С</text>
<text x="0" y="0" font-size="31" font-weight="bold" transform="translate(1131.5,234.7) scale(0.88,1)">В</text>
<text x="1152.3" y="338" font-size="31" font-weight="bold" textLength="29.5" lengthAdjust="spacingAndGlyphs">Ю</text>
<text x="1049.2" y="357.8" font-size="31" font-weight="bold" >З</text>
</svg>
</body></html>
